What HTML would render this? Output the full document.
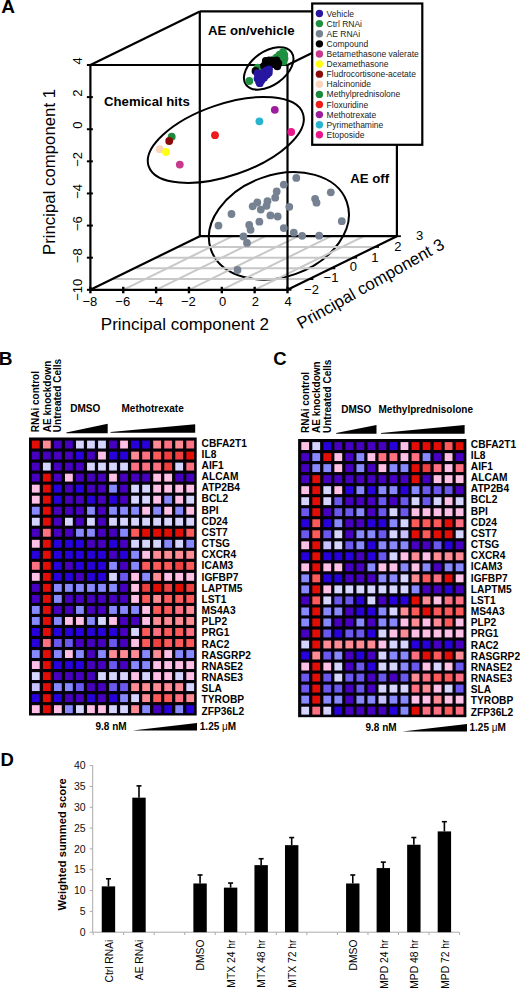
<!DOCTYPE html>
<html><head><meta charset="utf-8"><style>
html,body{margin:0;padding:0;background:#fff;width:520px;height:989px;overflow:hidden;}
svg{display:block;font-family:"Liberation Sans",sans-serif;}
</style></head><body>
<svg width="520" height="989" viewBox="0 0 520 989">
<ellipse cx="278.9" cy="225.85" rx="72" ry="50.95" transform="rotate(-19.5 278.9 225.85)" fill="none" stroke="#000" stroke-width="2" />
<line x1="112.28" y1="279.08" x2="309.38" y2="279.08" stroke="#c8c8c8" stroke-width="2" />
<line x1="134.16" y1="268.36" x2="331.26" y2="268.36" stroke="#c8c8c8" stroke-width="2" />
<line x1="156.04" y1="257.64" x2="353.14" y2="257.64" stroke="#c8c8c8" stroke-width="2" />
<line x1="177.92" y1="246.92" x2="375.02" y2="246.92" stroke="#c8c8c8" stroke-width="2" />
<line x1="123.25" y1="289.8" x2="232.65" y2="236.2" stroke="#c8c8c8" stroke-width="2" />
<line x1="156.1" y1="289.8" x2="265.5" y2="236.2" stroke="#c8c8c8" stroke-width="2" />
<line x1="188.95" y1="289.8" x2="298.35" y2="236.2" stroke="#c8c8c8" stroke-width="2" />
<line x1="221.8" y1="289.8" x2="331.2" y2="236.2" stroke="#c8c8c8" stroke-width="2" />
<line x1="254.65" y1="289.8" x2="364.05" y2="236.2" stroke="#c8c8c8" stroke-width="2" />
<line x1="90.4" y1="65" x2="90.4" y2="289.8" stroke="#000" stroke-width="2.2" />
<line x1="90.4" y1="65" x2="287.5" y2="65" stroke="#000" stroke-width="2.2" />
<line x1="90.4" y1="289.8" x2="287.5" y2="289.8" stroke="#000" stroke-width="2.2" />
<line x1="287.5" y1="65" x2="287.5" y2="289.8" stroke="#000" stroke-width="2.2" />
<line x1="199.8" y1="11.4" x2="199.8" y2="236.2" stroke="#000" stroke-width="2.2" />
<line x1="199.8" y1="11.4" x2="396.9" y2="11.4" stroke="#000" stroke-width="2.2" />
<line x1="199.8" y1="236.2" x2="396.9" y2="236.2" stroke="#000" stroke-width="2.2" />
<line x1="396.9" y1="11.4" x2="396.9" y2="236.2" stroke="#000" stroke-width="2.2" />
<line x1="90.4" y1="65" x2="199.8" y2="11.4" stroke="#000" stroke-width="2.2" />
<line x1="287.5" y1="65" x2="396.9" y2="11.4" stroke="#000" stroke-width="2.2" />
<line x1="90.4" y1="289.8" x2="199.8" y2="236.2" stroke="#000" stroke-width="2.2" />
<line x1="287.5" y1="289.8" x2="396.9" y2="236.2" stroke="#000" stroke-width="2.2" />
<ellipse cx="225.8" cy="139.95" rx="81.5" ry="35.8" transform="rotate(-18.94 225.8 139.95)" fill="none" stroke="#000" stroke-width="2" />
<ellipse cx="268.7" cy="68.4" rx="27.9" ry="16.9" transform="rotate(-35.5 268.7 68.4)" fill="none" stroke="#000" stroke-width="2" />
<line x1="86.9" y1="65" x2="92.9" y2="65" stroke="#000" stroke-width="2" />
<text x="0" y="0" font-size="13" text-anchor="middle" transform="translate(81.8 61) rotate(-90)">4</text>
<line x1="86.9" y1="97.11" x2="92.9" y2="97.11" stroke="#000" stroke-width="2" />
<text x="0" y="0" font-size="13" text-anchor="middle" transform="translate(81.8 93.11) rotate(-90)">2</text>
<line x1="86.9" y1="129.23" x2="92.9" y2="129.23" stroke="#000" stroke-width="2" />
<text x="0" y="0" font-size="13" text-anchor="middle" transform="translate(81.8 125.23) rotate(-90)">0</text>
<line x1="86.9" y1="161.34" x2="92.9" y2="161.34" stroke="#000" stroke-width="2" />
<text x="0" y="0" font-size="13" text-anchor="middle" transform="translate(81.8 159.34) rotate(-90)">&#8722;2</text>
<line x1="86.9" y1="193.46" x2="92.9" y2="193.46" stroke="#000" stroke-width="2" />
<text x="0" y="0" font-size="13" text-anchor="middle" transform="translate(81.8 191.46) rotate(-90)">&#8722;4</text>
<line x1="86.9" y1="225.57" x2="92.9" y2="225.57" stroke="#000" stroke-width="2" />
<text x="0" y="0" font-size="13" text-anchor="middle" transform="translate(81.8 223.57) rotate(-90)">&#8722;6</text>
<line x1="86.9" y1="257.69" x2="92.9" y2="257.69" stroke="#000" stroke-width="2" />
<text x="0" y="0" font-size="13" text-anchor="middle" transform="translate(81.8 255.69) rotate(-90)">&#8722;8</text>
<line x1="86.9" y1="289.8" x2="92.9" y2="289.8" stroke="#000" stroke-width="2" />
<text x="0" y="0" font-size="13" text-anchor="middle" transform="translate(81.8 289.8) rotate(-90)">&#8722;10</text>
<line x1="90.4" y1="286.8" x2="90.4" y2="293.3" stroke="#000" stroke-width="2.4" />
<text x="89.9" y="306.2" font-size="13" text-anchor="middle" fill="#000" >&#8722;8</text>
<line x1="123.25" y1="286.8" x2="123.25" y2="293.3" stroke="#000" stroke-width="2.4" />
<text x="122.75" y="306.2" font-size="13" text-anchor="middle" fill="#000" >&#8722;6</text>
<line x1="156.1" y1="286.8" x2="156.1" y2="293.3" stroke="#000" stroke-width="2.4" />
<text x="155.6" y="306.2" font-size="13" text-anchor="middle" fill="#000" >&#8722;4</text>
<line x1="188.95" y1="286.8" x2="188.95" y2="293.3" stroke="#000" stroke-width="2.4" />
<text x="188.45" y="306.2" font-size="13" text-anchor="middle" fill="#000" >&#8722;2</text>
<line x1="221.8" y1="286.8" x2="221.8" y2="293.3" stroke="#000" stroke-width="2.4" />
<text x="222.5" y="306.2" font-size="13" text-anchor="middle" fill="#000" >0</text>
<line x1="254.65" y1="286.8" x2="254.65" y2="293.3" stroke="#000" stroke-width="2.4" />
<text x="255.35" y="306.2" font-size="13" text-anchor="middle" fill="#000" >2</text>
<line x1="287.5" y1="286.8" x2="287.5" y2="293.3" stroke="#000" stroke-width="2.4" />
<text x="288.2" y="306.2" font-size="13" text-anchor="middle" fill="#000" >4</text>
<text x="311.5" y="294.3" font-size="13" text-anchor="middle" fill="#000" >&#8722;2</text>
<text x="331" y="282" font-size="13" text-anchor="middle" fill="#000" >&#8722;1</text>
<text x="353.3" y="271.4" font-size="13" text-anchor="middle" fill="#000" >0</text>
<text x="374.8" y="261.7" font-size="13" text-anchor="middle" fill="#000" >1</text>
<text x="397.9" y="250.5" font-size="13" text-anchor="middle" fill="#000" >2</text>
<text x="419.7" y="240.2" font-size="13" text-anchor="middle" fill="#000" >3</text>
<line x1="287" y1="289.8" x2="291.5" y2="289.8" stroke="#000" stroke-width="1.8" />
<line x1="308.88" y1="279.08" x2="313.38" y2="279.08" stroke="#000" stroke-width="1.8" />
<line x1="330.76" y1="268.36" x2="335.26" y2="268.36" stroke="#000" stroke-width="1.8" />
<line x1="352.64" y1="257.64" x2="357.14" y2="257.64" stroke="#000" stroke-width="1.8" />
<line x1="374.52" y1="246.92" x2="379.02" y2="246.92" stroke="#000" stroke-width="1.8" />
<line x1="396.4" y1="236.2" x2="400.9" y2="236.2" stroke="#000" stroke-width="1.8" />
<text x="100.8" y="329.8" font-size="17" text-anchor="start" fill="#000" >Principal component 2</text>
<text x="0" y="0" font-size="16.8" transform="translate(55.3 255) rotate(-90)">Principal component 1</text>
<text x="0" y="0" font-size="16.8" transform="translate(301 329.6) rotate(-29.5)">Principal component 3</text>
<text x="208" y="35.4" font-size="13.2" font-weight="bold" text-anchor="start" fill="#000" >AE on/vehicle</text>
<text x="104" y="105.5" font-size="13.2" font-weight="bold" text-anchor="start" fill="#000" >Chemical hits</text>
<text x="350.3" y="183.3" font-size="13.2" font-weight="bold" text-anchor="start" fill="#000" >AE off</text>
<circle cx="296.3" cy="177.9" r="3.9" fill="#768292"/>
<circle cx="283.8" cy="184.6" r="3.9" fill="#768292"/>
<circle cx="276.7" cy="191.5" r="3.9" fill="#768292"/>
<circle cx="275.2" cy="197.7" r="3.9" fill="#768292"/>
<circle cx="267.5" cy="201.2" r="3.9" fill="#768292"/>
<circle cx="266.5" cy="205.8" r="3.9" fill="#768292"/>
<circle cx="257.3" cy="202.5" r="3.9" fill="#768292"/>
<circle cx="252.7" cy="206.3" r="3.9" fill="#768292"/>
<circle cx="260.8" cy="209.6" r="3.9" fill="#768292"/>
<circle cx="289.3" cy="206.8" r="3.9" fill="#768292"/>
<circle cx="270.4" cy="215.4" r="3.9" fill="#768292"/>
<circle cx="277.7" cy="216.5" r="3.9" fill="#768292"/>
<circle cx="231.5" cy="214" r="3.9" fill="#768292"/>
<circle cx="218.5" cy="225.6" r="3.9" fill="#768292"/>
<circle cx="249.2" cy="225" r="3.9" fill="#768292"/>
<circle cx="250.6" cy="229.8" r="3.9" fill="#768292"/>
<circle cx="259.4" cy="221.7" r="3.9" fill="#768292"/>
<circle cx="283.8" cy="228.1" r="3.9" fill="#768292"/>
<circle cx="293.8" cy="232.7" r="3.9" fill="#768292"/>
<circle cx="302.1" cy="235.8" r="3.9" fill="#768292"/>
<circle cx="243.5" cy="236.5" r="3.9" fill="#768292"/>
<circle cx="247" cy="242.9" r="3.9" fill="#768292"/>
<circle cx="330.8" cy="192.3" r="3.9" fill="#768292"/>
<circle cx="315.1" cy="198.8" r="3.9" fill="#768292"/>
<circle cx="316.5" cy="202.7" r="3.9" fill="#768292"/>
<circle cx="341.8" cy="221.2" r="3.9" fill="#768292"/>
<circle cx="319.2" cy="235.7" r="3.9" fill="#768292"/>
<circle cx="237.5" cy="270" r="3.9" fill="#768292"/>
<circle cx="171.7" cy="136.7" r="3.9" fill="#1c8a3c"/>
<circle cx="169.2" cy="141" r="3.9" fill="#8b0a0a"/>
<circle cx="159.8" cy="149.2" r="3.9" fill="#fad5bc"/>
<circle cx="166" cy="152" r="3.9" fill="#ffff10"/>
<circle cx="179.8" cy="164.6" r="3.9" fill="#c8388c"/>
<circle cx="215" cy="135.2" r="3.9" fill="#ee1c1c"/>
<circle cx="259.4" cy="121.3" r="3.9" fill="#28b4d0"/>
<circle cx="274.8" cy="109.8" r="3.9" fill="#9c1c9c"/>
<circle cx="291.2" cy="132" r="3.9" fill="#e8188c"/>
<circle cx="283" cy="52.2" r="3.9" fill="#1f9040"/>
<circle cx="284.3" cy="54.8" r="3.9" fill="#1f9040"/>
<circle cx="284.5" cy="58.5" r="3.9" fill="#1f9040"/>
<circle cx="283.6" cy="61.5" r="3.9" fill="#1f9040"/>
<circle cx="279.6" cy="54.6" r="3.9" fill="#1f9040"/>
<circle cx="276.7" cy="57.5" r="3.9" fill="#1f9040"/>
<circle cx="273.8" cy="59.4" r="3.9" fill="#1f9040"/>
<circle cx="281.5" cy="57.5" r="3.9" fill="#1f9040"/>
<circle cx="257.5" cy="67.6" r="3.9" fill="#1f9040"/>
<circle cx="249.3" cy="81" r="3.9" fill="#1f9040"/>
<circle cx="265.8" cy="61" r="3.9" fill="#000000"/>
<circle cx="269.2" cy="60.3" r="3.9" fill="#000000"/>
<circle cx="272.9" cy="61" r="3.9" fill="#000000"/>
<circle cx="276.5" cy="60.5" r="3.9" fill="#000000"/>
<circle cx="278.3" cy="63.5" r="3.9" fill="#000000"/>
<circle cx="277.3" cy="66.3" r="3.9" fill="#000000"/>
<circle cx="273.8" cy="64.2" r="3.9" fill="#000000"/>
<circle cx="270" cy="63.8" r="3.9" fill="#000000"/>
<circle cx="266.2" cy="64.5" r="3.9" fill="#000000"/>
<circle cx="264" cy="66" r="3.9" fill="#000000"/>
<circle cx="255.5" cy="71" r="3.9" fill="#000000"/>
<circle cx="269" cy="69.5" r="3.9" fill="#2616a0"/>
<circle cx="266.5" cy="70.5" r="3.9" fill="#2616a0"/>
<circle cx="264.2" cy="71.9" r="3.9" fill="#2616a0"/>
<circle cx="261.3" cy="73.8" r="3.9" fill="#2616a0"/>
<circle cx="258.8" cy="75.8" r="3.9" fill="#2616a0"/>
<circle cx="257.5" cy="78.7" r="3.9" fill="#2616a0"/>
<circle cx="259" cy="81.5" r="3.9" fill="#2616a0"/>
<circle cx="261.5" cy="80.3" r="3.9" fill="#2616a0"/>
<circle cx="264" cy="77.7" r="3.9" fill="#2616a0"/>
<circle cx="266.8" cy="74.8" r="3.9" fill="#2616a0"/>
<circle cx="268.8" cy="72.8" r="3.9" fill="#2616a0"/>
<circle cx="257.5" cy="73.2" r="3.9" fill="#2616a0"/>
<circle cx="259.8" cy="83.2" r="3.9" fill="#2616a0"/>
<circle cx="262" cy="76" r="3.9" fill="#2616a0"/>
<rect x="312.2" y="3.5" width="110.1" height="141.3" fill="#fff" stroke="#000" stroke-width="2.2"/>
<circle cx="319.4" cy="13.5" r="3.7" fill="#2616a0"/>
<text x="326.6" y="16.6" font-size="8.5" text-anchor="start" fill="#222" >Vehicle</text>
<circle cx="319.4" cy="23.61" r="3.7" fill="#1f9040"/>
<text x="326.6" y="26.71" font-size="8.5" text-anchor="start" fill="#222" >Ctrl RNAi</text>
<circle cx="319.4" cy="33.72" r="3.7" fill="#768292"/>
<text x="326.6" y="36.82" font-size="8.5" text-anchor="start" fill="#222" >AE RNAi</text>
<circle cx="319.4" cy="43.83" r="3.7" fill="#000000"/>
<text x="326.6" y="46.93" font-size="8.5" text-anchor="start" fill="#222" >Compound</text>
<circle cx="319.4" cy="53.94" r="3.7" fill="#c8388c"/>
<text x="326.6" y="57.04" font-size="8.5" text-anchor="start" fill="#222" >Betamethasone valerate</text>
<circle cx="319.4" cy="64.05" r="3.7" fill="#ffff10"/>
<text x="326.6" y="67.15" font-size="8.5" text-anchor="start" fill="#222" >Dexamethasone</text>
<circle cx="319.4" cy="74.16" r="3.7" fill="#8b0a0a"/>
<text x="326.6" y="77.26" font-size="8.5" text-anchor="start" fill="#222" >Fludrocortisone-acetate</text>
<circle cx="319.4" cy="84.27" r="3.7" fill="#fad5bc"/>
<text x="326.6" y="87.37" font-size="8.5" text-anchor="start" fill="#222" >Halcinonide</text>
<circle cx="319.4" cy="94.38" r="3.7" fill="#1c8a3c"/>
<text x="326.6" y="97.48" font-size="8.5" text-anchor="start" fill="#222" >Methylprednisolone</text>
<circle cx="319.4" cy="104.49" r="3.7" fill="#ee1c1c"/>
<text x="326.6" y="107.59" font-size="8.5" text-anchor="start" fill="#222" >Floxuridine</text>
<circle cx="319.4" cy="114.6" r="3.7" fill="#9c1c9c"/>
<text x="326.6" y="117.7" font-size="8.5" text-anchor="start" fill="#222" >Methotrexate</text>
<circle cx="319.4" cy="124.71" r="3.7" fill="#28b4d0"/>
<text x="326.6" y="127.81" font-size="8.5" text-anchor="start" fill="#222" >Pyrimethamine</text>
<circle cx="319.4" cy="134.82" r="3.7" fill="#e8188c"/>
<text x="326.6" y="137.92" font-size="8.5" text-anchor="start" fill="#222" >Etoposide</text>
<text x="1.2" y="12.9" font-size="19" font-weight="bold" text-anchor="start" fill="#000" >A</text>
<text x="-1.2" y="365.4" font-size="19" font-weight="bold" text-anchor="start" fill="#000" >B</text>
<text x="273.3" y="365" font-size="18.5" font-weight="bold" text-anchor="start" fill="#000" >C</text>
<text x="0.6" y="766" font-size="18.5" font-weight="bold" text-anchor="start" fill="#000" >D</text>
<rect x="29" y="437.5" width="167.7" height="278" fill="#040008"/>
<rect x="31.9" y="440.6" width="7.8" height="7.9" fill="#E20E06"/>
<rect x="42.93" y="440.6" width="7.8" height="7.9" fill="#FF8C94"/>
<rect x="53.96" y="440.6" width="7.8" height="7.9" fill="#4800C0"/>
<rect x="64.99" y="440.6" width="7.8" height="7.9" fill="#4800C0"/>
<rect x="76.02" y="440.6" width="7.8" height="7.9" fill="#D5D5FF"/>
<rect x="87.05" y="440.6" width="7.8" height="7.9" fill="#D5D5FF"/>
<rect x="98.08" y="440.6" width="7.8" height="7.9" fill="#D5D5FF"/>
<rect x="109.11" y="440.6" width="7.8" height="7.9" fill="#4800C0"/>
<rect x="120.14" y="440.6" width="7.8" height="7.9" fill="#FFC0E5"/>
<rect x="131.17" y="440.6" width="7.8" height="7.9" fill="#2800DC"/>
<rect x="142.2" y="440.6" width="7.8" height="7.9" fill="#2800DC"/>
<rect x="153.23" y="440.6" width="7.8" height="7.9" fill="#FF8C94"/>
<rect x="164.26" y="440.6" width="7.8" height="7.9" fill="#FF7080"/>
<rect x="175.29" y="440.6" width="7.8" height="7.9" fill="#FF8C94"/>
<rect x="186.32" y="440.6" width="7.8" height="7.9" fill="#FF7080"/>
<rect x="31.9" y="451.62" width="7.8" height="7.9" fill="#4800C0"/>
<rect x="42.93" y="451.62" width="7.8" height="7.9" fill="#4800C0"/>
<rect x="53.96" y="451.62" width="7.8" height="7.9" fill="#4800C0"/>
<rect x="64.99" y="451.62" width="7.8" height="7.9" fill="#4800C0"/>
<rect x="76.02" y="451.62" width="7.8" height="7.9" fill="#2800DC"/>
<rect x="87.05" y="451.62" width="7.8" height="7.9" fill="#4800C0"/>
<rect x="98.08" y="451.62" width="7.8" height="7.9" fill="#FFC0E5"/>
<rect x="109.11" y="451.62" width="7.8" height="7.9" fill="#2800DC"/>
<rect x="120.14" y="451.62" width="7.8" height="7.9" fill="#2800DC"/>
<rect x="131.17" y="451.62" width="7.8" height="7.9" fill="#FF8C94"/>
<rect x="142.2" y="451.62" width="7.8" height="7.9" fill="#FF7080"/>
<rect x="153.23" y="451.62" width="7.8" height="7.9" fill="#FF5A5A"/>
<rect x="164.26" y="451.62" width="7.8" height="7.9" fill="#EF4040"/>
<rect x="175.29" y="451.62" width="7.8" height="7.9" fill="#EF4040"/>
<rect x="186.32" y="451.62" width="7.8" height="7.9" fill="#E20E06"/>
<rect x="31.9" y="462.65" width="7.8" height="7.9" fill="#4800C0"/>
<rect x="42.93" y="462.65" width="7.8" height="7.9" fill="#D5D5FF"/>
<rect x="53.96" y="462.65" width="7.8" height="7.9" fill="#4800C0"/>
<rect x="64.99" y="462.65" width="7.8" height="7.9" fill="#4800C0"/>
<rect x="76.02" y="462.65" width="7.8" height="7.9" fill="#4800C0"/>
<rect x="87.05" y="462.65" width="7.8" height="7.9" fill="#D5D5FF"/>
<rect x="98.08" y="462.65" width="7.8" height="7.9" fill="#D5D5FF"/>
<rect x="109.11" y="462.65" width="7.8" height="7.9" fill="#D5D5FF"/>
<rect x="120.14" y="462.65" width="7.8" height="7.9" fill="#D5D5FF"/>
<rect x="131.17" y="462.65" width="7.8" height="7.9" fill="#FF7080"/>
<rect x="142.2" y="462.65" width="7.8" height="7.9" fill="#FF7080"/>
<rect x="153.23" y="462.65" width="7.8" height="7.9" fill="#FF7080"/>
<rect x="164.26" y="462.65" width="7.8" height="7.9" fill="#EF4040"/>
<rect x="175.29" y="462.65" width="7.8" height="7.9" fill="#D5D5FF"/>
<rect x="186.32" y="462.65" width="7.8" height="7.9" fill="#FF7080"/>
<rect x="31.9" y="473.68" width="7.8" height="7.9" fill="#4800C0"/>
<rect x="42.93" y="473.68" width="7.8" height="7.9" fill="#E20E06"/>
<rect x="53.96" y="473.68" width="7.8" height="7.9" fill="#4800C0"/>
<rect x="64.99" y="473.68" width="7.8" height="7.9" fill="#FFC0E5"/>
<rect x="76.02" y="473.68" width="7.8" height="7.9" fill="#4800C0"/>
<rect x="87.05" y="473.68" width="7.8" height="7.9" fill="#4800C0"/>
<rect x="98.08" y="473.68" width="7.8" height="7.9" fill="#4800C0"/>
<rect x="109.11" y="473.68" width="7.8" height="7.9" fill="#FFC0E5"/>
<rect x="120.14" y="473.68" width="7.8" height="7.9" fill="#4800C0"/>
<rect x="131.17" y="473.68" width="7.8" height="7.9" fill="#4800C0"/>
<rect x="142.2" y="473.68" width="7.8" height="7.9" fill="#4800C0"/>
<rect x="153.23" y="473.68" width="7.8" height="7.9" fill="#FFC0E5"/>
<rect x="164.26" y="473.68" width="7.8" height="7.9" fill="#FFC0E5"/>
<rect x="175.29" y="473.68" width="7.8" height="7.9" fill="#4800C0"/>
<rect x="186.32" y="473.68" width="7.8" height="7.9" fill="#4800C0"/>
<rect x="31.9" y="484.7" width="7.8" height="7.9" fill="#FFC0E5"/>
<rect x="42.93" y="484.7" width="7.8" height="7.9" fill="#E20E06"/>
<rect x="53.96" y="484.7" width="7.8" height="7.9" fill="#2800DC"/>
<rect x="64.99" y="484.7" width="7.8" height="7.9" fill="#4800C0"/>
<rect x="76.02" y="484.7" width="7.8" height="7.9" fill="#2800DC"/>
<rect x="87.05" y="484.7" width="7.8" height="7.9" fill="#4800C0"/>
<rect x="98.08" y="484.7" width="7.8" height="7.9" fill="#4800C0"/>
<rect x="109.11" y="484.7" width="7.8" height="7.9" fill="#8888FF"/>
<rect x="120.14" y="484.7" width="7.8" height="7.9" fill="#4800C0"/>
<rect x="131.17" y="484.7" width="7.8" height="7.9" fill="#D5D5FF"/>
<rect x="142.2" y="484.7" width="7.8" height="7.9" fill="#D5D5FF"/>
<rect x="153.23" y="484.7" width="7.8" height="7.9" fill="#FFC0E5"/>
<rect x="164.26" y="484.7" width="7.8" height="7.9" fill="#FFC0E5"/>
<rect x="175.29" y="484.7" width="7.8" height="7.9" fill="#FFC0E5"/>
<rect x="186.32" y="484.7" width="7.8" height="7.9" fill="#FFC0E5"/>
<rect x="31.9" y="495.73" width="7.8" height="7.9" fill="#FFC0E5"/>
<rect x="42.93" y="495.73" width="7.8" height="7.9" fill="#E20E06"/>
<rect x="53.96" y="495.73" width="7.8" height="7.9" fill="#2800DC"/>
<rect x="64.99" y="495.73" width="7.8" height="7.9" fill="#4800C0"/>
<rect x="76.02" y="495.73" width="7.8" height="7.9" fill="#4800C0"/>
<rect x="87.05" y="495.73" width="7.8" height="7.9" fill="#2800DC"/>
<rect x="98.08" y="495.73" width="7.8" height="7.9" fill="#4800C0"/>
<rect x="109.11" y="495.73" width="7.8" height="7.9" fill="#2800DC"/>
<rect x="120.14" y="495.73" width="7.8" height="7.9" fill="#4800C0"/>
<rect x="131.17" y="495.73" width="7.8" height="7.9" fill="#D5D5FF"/>
<rect x="142.2" y="495.73" width="7.8" height="7.9" fill="#D5D5FF"/>
<rect x="153.23" y="495.73" width="7.8" height="7.9" fill="#FFC0E5"/>
<rect x="164.26" y="495.73" width="7.8" height="7.9" fill="#8888FF"/>
<rect x="175.29" y="495.73" width="7.8" height="7.9" fill="#FFC0E5"/>
<rect x="186.32" y="495.73" width="7.8" height="7.9" fill="#D5D5FF"/>
<rect x="31.9" y="506.75" width="7.8" height="7.9" fill="#8888FF"/>
<rect x="42.93" y="506.75" width="7.8" height="7.9" fill="#E20E06"/>
<rect x="53.96" y="506.75" width="7.8" height="7.9" fill="#4800C0"/>
<rect x="64.99" y="506.75" width="7.8" height="7.9" fill="#4800C0"/>
<rect x="76.02" y="506.75" width="7.8" height="7.9" fill="#4800C0"/>
<rect x="87.05" y="506.75" width="7.8" height="7.9" fill="#8888FF"/>
<rect x="98.08" y="506.75" width="7.8" height="7.9" fill="#4800C0"/>
<rect x="109.11" y="506.75" width="7.8" height="7.9" fill="#8888FF"/>
<rect x="120.14" y="506.75" width="7.8" height="7.9" fill="#8888FF"/>
<rect x="131.17" y="506.75" width="7.8" height="7.9" fill="#8888FF"/>
<rect x="142.2" y="506.75" width="7.8" height="7.9" fill="#FFC0E5"/>
<rect x="153.23" y="506.75" width="7.8" height="7.9" fill="#8888FF"/>
<rect x="164.26" y="506.75" width="7.8" height="7.9" fill="#FFC0E5"/>
<rect x="175.29" y="506.75" width="7.8" height="7.9" fill="#8888FF"/>
<rect x="186.32" y="506.75" width="7.8" height="7.9" fill="#FFC0E5"/>
<rect x="31.9" y="517.77" width="7.8" height="7.9" fill="#D5D5FF"/>
<rect x="42.93" y="517.77" width="7.8" height="7.9" fill="#E20E06"/>
<rect x="53.96" y="517.77" width="7.8" height="7.9" fill="#4800C0"/>
<rect x="64.99" y="517.77" width="7.8" height="7.9" fill="#D5D5FF"/>
<rect x="76.02" y="517.77" width="7.8" height="7.9" fill="#4800C0"/>
<rect x="87.05" y="517.77" width="7.8" height="7.9" fill="#D5D5FF"/>
<rect x="98.08" y="517.77" width="7.8" height="7.9" fill="#4800C0"/>
<rect x="109.11" y="517.77" width="7.8" height="7.9" fill="#D5D5FF"/>
<rect x="120.14" y="517.77" width="7.8" height="7.9" fill="#D5D5FF"/>
<rect x="131.17" y="517.77" width="7.8" height="7.9" fill="#D5D5FF"/>
<rect x="142.2" y="517.77" width="7.8" height="7.9" fill="#D5D5FF"/>
<rect x="153.23" y="517.77" width="7.8" height="7.9" fill="#D5D5FF"/>
<rect x="164.26" y="517.77" width="7.8" height="7.9" fill="#D5D5FF"/>
<rect x="175.29" y="517.77" width="7.8" height="7.9" fill="#D5D5FF"/>
<rect x="186.32" y="517.77" width="7.8" height="7.9" fill="#D5D5FF"/>
<rect x="31.9" y="528.8" width="7.8" height="7.9" fill="#4800C0"/>
<rect x="42.93" y="528.8" width="7.8" height="7.9" fill="#FF7080"/>
<rect x="53.96" y="528.8" width="7.8" height="7.9" fill="#4800C0"/>
<rect x="64.99" y="528.8" width="7.8" height="7.9" fill="#4800C0"/>
<rect x="76.02" y="528.8" width="7.8" height="7.9" fill="#8888FF"/>
<rect x="87.05" y="528.8" width="7.8" height="7.9" fill="#8888FF"/>
<rect x="98.08" y="528.8" width="7.8" height="7.9" fill="#4800C0"/>
<rect x="109.11" y="528.8" width="7.8" height="7.9" fill="#4800C0"/>
<rect x="120.14" y="528.8" width="7.8" height="7.9" fill="#8888FF"/>
<rect x="131.17" y="528.8" width="7.8" height="7.9" fill="#FF5A5A"/>
<rect x="142.2" y="528.8" width="7.8" height="7.9" fill="#E20E06"/>
<rect x="153.23" y="528.8" width="7.8" height="7.9" fill="#E20E06"/>
<rect x="164.26" y="528.8" width="7.8" height="7.9" fill="#E20E06"/>
<rect x="175.29" y="528.8" width="7.8" height="7.9" fill="#E20E06"/>
<rect x="186.32" y="528.8" width="7.8" height="7.9" fill="#FF5A5A"/>
<rect x="31.9" y="539.83" width="7.8" height="7.9" fill="#FFC0E5"/>
<rect x="42.93" y="539.83" width="7.8" height="7.9" fill="#E20E06"/>
<rect x="53.96" y="539.83" width="7.8" height="7.9" fill="#2800DC"/>
<rect x="64.99" y="539.83" width="7.8" height="7.9" fill="#2800DC"/>
<rect x="76.02" y="539.83" width="7.8" height="7.9" fill="#2800DC"/>
<rect x="87.05" y="539.83" width="7.8" height="7.9" fill="#4800C0"/>
<rect x="98.08" y="539.83" width="7.8" height="7.9" fill="#4800C0"/>
<rect x="109.11" y="539.83" width="7.8" height="7.9" fill="#2800DC"/>
<rect x="120.14" y="539.83" width="7.8" height="7.9" fill="#4800C0"/>
<rect x="131.17" y="539.83" width="7.8" height="7.9" fill="#D5D5FF"/>
<rect x="142.2" y="539.83" width="7.8" height="7.9" fill="#D5D5FF"/>
<rect x="153.23" y="539.83" width="7.8" height="7.9" fill="#D5D5FF"/>
<rect x="164.26" y="539.83" width="7.8" height="7.9" fill="#8888FF"/>
<rect x="175.29" y="539.83" width="7.8" height="7.9" fill="#D5D5FF"/>
<rect x="186.32" y="539.83" width="7.8" height="7.9" fill="#8888FF"/>
<rect x="31.9" y="550.85" width="7.8" height="7.9" fill="#2800DC"/>
<rect x="42.93" y="550.85" width="7.8" height="7.9" fill="#E20E06"/>
<rect x="53.96" y="550.85" width="7.8" height="7.9" fill="#2800DC"/>
<rect x="64.99" y="550.85" width="7.8" height="7.9" fill="#2800DC"/>
<rect x="76.02" y="550.85" width="7.8" height="7.9" fill="#2800DC"/>
<rect x="87.05" y="550.85" width="7.8" height="7.9" fill="#2800DC"/>
<rect x="98.08" y="550.85" width="7.8" height="7.9" fill="#2800DC"/>
<rect x="109.11" y="550.85" width="7.8" height="7.9" fill="#4800C0"/>
<rect x="120.14" y="550.85" width="7.8" height="7.9" fill="#2800DC"/>
<rect x="131.17" y="550.85" width="7.8" height="7.9" fill="#8888FF"/>
<rect x="142.2" y="550.85" width="7.8" height="7.9" fill="#FFC0E5"/>
<rect x="153.23" y="550.85" width="7.8" height="7.9" fill="#FF8C94"/>
<rect x="164.26" y="550.85" width="7.8" height="7.9" fill="#FF8C94"/>
<rect x="175.29" y="550.85" width="7.8" height="7.9" fill="#FF8C94"/>
<rect x="186.32" y="550.85" width="7.8" height="7.9" fill="#FF8C94"/>
<rect x="31.9" y="561.88" width="7.8" height="7.9" fill="#FF7080"/>
<rect x="42.93" y="561.88" width="7.8" height="7.9" fill="#E20E06"/>
<rect x="53.96" y="561.88" width="7.8" height="7.9" fill="#2800DC"/>
<rect x="64.99" y="561.88" width="7.8" height="7.9" fill="#4800C0"/>
<rect x="76.02" y="561.88" width="7.8" height="7.9" fill="#2800DC"/>
<rect x="87.05" y="561.88" width="7.8" height="7.9" fill="#2800DC"/>
<rect x="98.08" y="561.88" width="7.8" height="7.9" fill="#2800DC"/>
<rect x="109.11" y="561.88" width="7.8" height="7.9" fill="#8888FF"/>
<rect x="120.14" y="561.88" width="7.8" height="7.9" fill="#4800C0"/>
<rect x="131.17" y="561.88" width="7.8" height="7.9" fill="#8888FF"/>
<rect x="142.2" y="561.88" width="7.8" height="7.9" fill="#FF5A5A"/>
<rect x="153.23" y="561.88" width="7.8" height="7.9" fill="#FF5A5A"/>
<rect x="164.26" y="561.88" width="7.8" height="7.9" fill="#FF5A5A"/>
<rect x="175.29" y="561.88" width="7.8" height="7.9" fill="#EF4040"/>
<rect x="186.32" y="561.88" width="7.8" height="7.9" fill="#FF5A5A"/>
<rect x="31.9" y="572.9" width="7.8" height="7.9" fill="#FFC0E5"/>
<rect x="42.93" y="572.9" width="7.8" height="7.9" fill="#E20E06"/>
<rect x="53.96" y="572.9" width="7.8" height="7.9" fill="#2800DC"/>
<rect x="64.99" y="572.9" width="7.8" height="7.9" fill="#2800DC"/>
<rect x="76.02" y="572.9" width="7.8" height="7.9" fill="#4800C0"/>
<rect x="87.05" y="572.9" width="7.8" height="7.9" fill="#2800DC"/>
<rect x="98.08" y="572.9" width="7.8" height="7.9" fill="#2800DC"/>
<rect x="109.11" y="572.9" width="7.8" height="7.9" fill="#D5D5FF"/>
<rect x="120.14" y="572.9" width="7.8" height="7.9" fill="#6B58EF"/>
<rect x="131.17" y="572.9" width="7.8" height="7.9" fill="#FFC0E5"/>
<rect x="142.2" y="572.9" width="7.8" height="7.9" fill="#8888FF"/>
<rect x="153.23" y="572.9" width="7.8" height="7.9" fill="#FF8C94"/>
<rect x="164.26" y="572.9" width="7.8" height="7.9" fill="#FFC0E5"/>
<rect x="175.29" y="572.9" width="7.8" height="7.9" fill="#FFC0E5"/>
<rect x="186.32" y="572.9" width="7.8" height="7.9" fill="#FFC0E5"/>
<rect x="31.9" y="583.93" width="7.8" height="7.9" fill="#4800C0"/>
<rect x="42.93" y="583.93" width="7.8" height="7.9" fill="#E20E06"/>
<rect x="53.96" y="583.93" width="7.8" height="7.9" fill="#8888FF"/>
<rect x="64.99" y="583.93" width="7.8" height="7.9" fill="#8888FF"/>
<rect x="76.02" y="583.93" width="7.8" height="7.9" fill="#8888FF"/>
<rect x="87.05" y="583.93" width="7.8" height="7.9" fill="#8888FF"/>
<rect x="98.08" y="583.93" width="7.8" height="7.9" fill="#8888FF"/>
<rect x="109.11" y="583.93" width="7.8" height="7.9" fill="#8888FF"/>
<rect x="120.14" y="583.93" width="7.8" height="7.9" fill="#4800C0"/>
<rect x="131.17" y="583.93" width="7.8" height="7.9" fill="#FFC0E5"/>
<rect x="142.2" y="583.93" width="7.8" height="7.9" fill="#EF4040"/>
<rect x="153.23" y="583.93" width="7.8" height="7.9" fill="#E20E06"/>
<rect x="164.26" y="583.93" width="7.8" height="7.9" fill="#EF4040"/>
<rect x="175.29" y="583.93" width="7.8" height="7.9" fill="#E20E06"/>
<rect x="186.32" y="583.93" width="7.8" height="7.9" fill="#EF4040"/>
<rect x="31.9" y="594.95" width="7.8" height="7.9" fill="#4800C0"/>
<rect x="42.93" y="594.95" width="7.8" height="7.9" fill="#E20E06"/>
<rect x="53.96" y="594.95" width="7.8" height="7.9" fill="#8888FF"/>
<rect x="64.99" y="594.95" width="7.8" height="7.9" fill="#4800C0"/>
<rect x="76.02" y="594.95" width="7.8" height="7.9" fill="#4800C0"/>
<rect x="87.05" y="594.95" width="7.8" height="7.9" fill="#4800C0"/>
<rect x="98.08" y="594.95" width="7.8" height="7.9" fill="#4800C0"/>
<rect x="109.11" y="594.95" width="7.8" height="7.9" fill="#4800C0"/>
<rect x="120.14" y="594.95" width="7.8" height="7.9" fill="#4800C0"/>
<rect x="131.17" y="594.95" width="7.8" height="7.9" fill="#FFC0E5"/>
<rect x="142.2" y="594.95" width="7.8" height="7.9" fill="#FF5A5A"/>
<rect x="153.23" y="594.95" width="7.8" height="7.9" fill="#FF8C94"/>
<rect x="164.26" y="594.95" width="7.8" height="7.9" fill="#FF5A5A"/>
<rect x="175.29" y="594.95" width="7.8" height="7.9" fill="#FF5A5A"/>
<rect x="186.32" y="594.95" width="7.8" height="7.9" fill="#FF5A5A"/>
<rect x="31.9" y="605.98" width="7.8" height="7.9" fill="#8888FF"/>
<rect x="42.93" y="605.98" width="7.8" height="7.9" fill="#E20E06"/>
<rect x="53.96" y="605.98" width="7.8" height="7.9" fill="#4800C0"/>
<rect x="64.99" y="605.98" width="7.8" height="7.9" fill="#4800C0"/>
<rect x="76.02" y="605.98" width="7.8" height="7.9" fill="#8888FF"/>
<rect x="87.05" y="605.98" width="7.8" height="7.9" fill="#4800C0"/>
<rect x="98.08" y="605.98" width="7.8" height="7.9" fill="#4800C0"/>
<rect x="109.11" y="605.98" width="7.8" height="7.9" fill="#8888FF"/>
<rect x="120.14" y="605.98" width="7.8" height="7.9" fill="#8888FF"/>
<rect x="131.17" y="605.98" width="7.8" height="7.9" fill="#8888FF"/>
<rect x="142.2" y="605.98" width="7.8" height="7.9" fill="#FFC0E5"/>
<rect x="153.23" y="605.98" width="7.8" height="7.9" fill="#FF5A5A"/>
<rect x="164.26" y="605.98" width="7.8" height="7.9" fill="#FF5A5A"/>
<rect x="175.29" y="605.98" width="7.8" height="7.9" fill="#FF7080"/>
<rect x="186.32" y="605.98" width="7.8" height="7.9" fill="#FF8C94"/>
<rect x="31.9" y="617" width="7.8" height="7.9" fill="#8888FF"/>
<rect x="42.93" y="617" width="7.8" height="7.9" fill="#E20E06"/>
<rect x="53.96" y="617" width="7.8" height="7.9" fill="#8888FF"/>
<rect x="64.99" y="617" width="7.8" height="7.9" fill="#FFC0E5"/>
<rect x="76.02" y="617" width="7.8" height="7.9" fill="#FFC0E5"/>
<rect x="87.05" y="617" width="7.8" height="7.9" fill="#8888FF"/>
<rect x="98.08" y="617" width="7.8" height="7.9" fill="#D5D5FF"/>
<rect x="109.11" y="617" width="7.8" height="7.9" fill="#FFC0E5"/>
<rect x="120.14" y="617" width="7.8" height="7.9" fill="#4800C0"/>
<rect x="131.17" y="617" width="7.8" height="7.9" fill="#4800C0"/>
<rect x="142.2" y="617" width="7.8" height="7.9" fill="#FFC0E5"/>
<rect x="153.23" y="617" width="7.8" height="7.9" fill="#FF8C94"/>
<rect x="164.26" y="617" width="7.8" height="7.9" fill="#FF8C94"/>
<rect x="175.29" y="617" width="7.8" height="7.9" fill="#FF8C94"/>
<rect x="186.32" y="617" width="7.8" height="7.9" fill="#FF8C94"/>
<rect x="31.9" y="628.03" width="7.8" height="7.9" fill="#2800DC"/>
<rect x="42.93" y="628.03" width="7.8" height="7.9" fill="#E20E06"/>
<rect x="53.96" y="628.03" width="7.8" height="7.9" fill="#2800DC"/>
<rect x="64.99" y="628.03" width="7.8" height="7.9" fill="#2800DC"/>
<rect x="76.02" y="628.03" width="7.8" height="7.9" fill="#2800DC"/>
<rect x="87.05" y="628.03" width="7.8" height="7.9" fill="#2800DC"/>
<rect x="98.08" y="628.03" width="7.8" height="7.9" fill="#2800DC"/>
<rect x="109.11" y="628.03" width="7.8" height="7.9" fill="#2800DC"/>
<rect x="120.14" y="628.03" width="7.8" height="7.9" fill="#4800C0"/>
<rect x="131.17" y="628.03" width="7.8" height="7.9" fill="#D5D5FF"/>
<rect x="142.2" y="628.03" width="7.8" height="7.9" fill="#FF5A5A"/>
<rect x="153.23" y="628.03" width="7.8" height="7.9" fill="#FF7080"/>
<rect x="164.26" y="628.03" width="7.8" height="7.9" fill="#FF5A5A"/>
<rect x="175.29" y="628.03" width="7.8" height="7.9" fill="#FF5A5A"/>
<rect x="186.32" y="628.03" width="7.8" height="7.9" fill="#FF7080"/>
<rect x="31.9" y="639.05" width="7.8" height="7.9" fill="#2800DC"/>
<rect x="42.93" y="639.05" width="7.8" height="7.9" fill="#FF7080"/>
<rect x="53.96" y="639.05" width="7.8" height="7.9" fill="#6B58EF"/>
<rect x="64.99" y="639.05" width="7.8" height="7.9" fill="#6B58EF"/>
<rect x="76.02" y="639.05" width="7.8" height="7.9" fill="#4800C0"/>
<rect x="87.05" y="639.05" width="7.8" height="7.9" fill="#4800C0"/>
<rect x="98.08" y="639.05" width="7.8" height="7.9" fill="#4800C0"/>
<rect x="109.11" y="639.05" width="7.8" height="7.9" fill="#6B58EF"/>
<rect x="120.14" y="639.05" width="7.8" height="7.9" fill="#4800C0"/>
<rect x="131.17" y="639.05" width="7.8" height="7.9" fill="#FFC0E5"/>
<rect x="142.2" y="639.05" width="7.8" height="7.9" fill="#FF5A5A"/>
<rect x="153.23" y="639.05" width="7.8" height="7.9" fill="#EF4040"/>
<rect x="164.26" y="639.05" width="7.8" height="7.9" fill="#FF5A5A"/>
<rect x="175.29" y="639.05" width="7.8" height="7.9" fill="#FF5A5A"/>
<rect x="186.32" y="639.05" width="7.8" height="7.9" fill="#FF5A5A"/>
<rect x="31.9" y="650.08" width="7.8" height="7.9" fill="#8888FF"/>
<rect x="42.93" y="650.08" width="7.8" height="7.9" fill="#E20E06"/>
<rect x="53.96" y="650.08" width="7.8" height="7.9" fill="#8888FF"/>
<rect x="64.99" y="650.08" width="7.8" height="7.9" fill="#FFC0E5"/>
<rect x="76.02" y="650.08" width="7.8" height="7.9" fill="#8888FF"/>
<rect x="87.05" y="650.08" width="7.8" height="7.9" fill="#4800C0"/>
<rect x="98.08" y="650.08" width="7.8" height="7.9" fill="#8888FF"/>
<rect x="109.11" y="650.08" width="7.8" height="7.9" fill="#FF8C94"/>
<rect x="120.14" y="650.08" width="7.8" height="7.9" fill="#FF8C94"/>
<rect x="131.17" y="650.08" width="7.8" height="7.9" fill="#FF8C94"/>
<rect x="142.2" y="650.08" width="7.8" height="7.9" fill="#8888FF"/>
<rect x="153.23" y="650.08" width="7.8" height="7.9" fill="#FF8C94"/>
<rect x="164.26" y="650.08" width="7.8" height="7.9" fill="#FFC0E5"/>
<rect x="175.29" y="650.08" width="7.8" height="7.9" fill="#8888FF"/>
<rect x="186.32" y="650.08" width="7.8" height="7.9" fill="#8888FF"/>
<rect x="31.9" y="661.1" width="7.8" height="7.9" fill="#FFC0E5"/>
<rect x="42.93" y="661.1" width="7.8" height="7.9" fill="#E20E06"/>
<rect x="53.96" y="661.1" width="7.8" height="7.9" fill="#2800DC"/>
<rect x="64.99" y="661.1" width="7.8" height="7.9" fill="#2800DC"/>
<rect x="76.02" y="661.1" width="7.8" height="7.9" fill="#2800DC"/>
<rect x="87.05" y="661.1" width="7.8" height="7.9" fill="#4800C0"/>
<rect x="98.08" y="661.1" width="7.8" height="7.9" fill="#4800C0"/>
<rect x="109.11" y="661.1" width="7.8" height="7.9" fill="#6B58EF"/>
<rect x="120.14" y="661.1" width="7.8" height="7.9" fill="#4800C0"/>
<rect x="131.17" y="661.1" width="7.8" height="7.9" fill="#8888FF"/>
<rect x="142.2" y="661.1" width="7.8" height="7.9" fill="#8888FF"/>
<rect x="153.23" y="661.1" width="7.8" height="7.9" fill="#FFC0E5"/>
<rect x="164.26" y="661.1" width="7.8" height="7.9" fill="#FFC0E5"/>
<rect x="175.29" y="661.1" width="7.8" height="7.9" fill="#FFC0E5"/>
<rect x="186.32" y="661.1" width="7.8" height="7.9" fill="#FFC0E5"/>
<rect x="31.9" y="672.12" width="7.8" height="7.9" fill="#D5D5FF"/>
<rect x="42.93" y="672.12" width="7.8" height="7.9" fill="#E20E06"/>
<rect x="53.96" y="672.12" width="7.8" height="7.9" fill="#4800C0"/>
<rect x="64.99" y="672.12" width="7.8" height="7.9" fill="#4800C0"/>
<rect x="76.02" y="672.12" width="7.8" height="7.9" fill="#4800C0"/>
<rect x="87.05" y="672.12" width="7.8" height="7.9" fill="#4800C0"/>
<rect x="98.08" y="672.12" width="7.8" height="7.9" fill="#D5D5FF"/>
<rect x="109.11" y="672.12" width="7.8" height="7.9" fill="#D5D5FF"/>
<rect x="120.14" y="672.12" width="7.8" height="7.9" fill="#D5D5FF"/>
<rect x="131.17" y="672.12" width="7.8" height="7.9" fill="#FFC0E5"/>
<rect x="142.2" y="672.12" width="7.8" height="7.9" fill="#D5D5FF"/>
<rect x="153.23" y="672.12" width="7.8" height="7.9" fill="#FFC0E5"/>
<rect x="164.26" y="672.12" width="7.8" height="7.9" fill="#FFC0E5"/>
<rect x="175.29" y="672.12" width="7.8" height="7.9" fill="#D5D5FF"/>
<rect x="186.32" y="672.12" width="7.8" height="7.9" fill="#FFC0E5"/>
<rect x="31.9" y="683.15" width="7.8" height="7.9" fill="#C7C1FF"/>
<rect x="42.93" y="683.15" width="7.8" height="7.9" fill="#E20E06"/>
<rect x="53.96" y="683.15" width="7.8" height="7.9" fill="#8888FF"/>
<rect x="64.99" y="683.15" width="7.8" height="7.9" fill="#8888FF"/>
<rect x="76.02" y="683.15" width="7.8" height="7.9" fill="#6B58EF"/>
<rect x="87.05" y="683.15" width="7.8" height="7.9" fill="#4800C0"/>
<rect x="98.08" y="683.15" width="7.8" height="7.9" fill="#4800C0"/>
<rect x="109.11" y="683.15" width="7.8" height="7.9" fill="#6B58EF"/>
<rect x="120.14" y="683.15" width="7.8" height="7.9" fill="#6B58EF"/>
<rect x="131.17" y="683.15" width="7.8" height="7.9" fill="#FF8C94"/>
<rect x="142.2" y="683.15" width="7.8" height="7.9" fill="#FF8C94"/>
<rect x="153.23" y="683.15" width="7.8" height="7.9" fill="#FF8C94"/>
<rect x="164.26" y="683.15" width="7.8" height="7.9" fill="#FF8C94"/>
<rect x="175.29" y="683.15" width="7.8" height="7.9" fill="#FF8C94"/>
<rect x="186.32" y="683.15" width="7.8" height="7.9" fill="#D5D5FF"/>
<rect x="31.9" y="694.18" width="7.8" height="7.9" fill="#2800DC"/>
<rect x="42.93" y="694.18" width="7.8" height="7.9" fill="#E20E06"/>
<rect x="53.96" y="694.18" width="7.8" height="7.9" fill="#2800DC"/>
<rect x="64.99" y="694.18" width="7.8" height="7.9" fill="#4800C0"/>
<rect x="76.02" y="694.18" width="7.8" height="7.9" fill="#4800C0"/>
<rect x="87.05" y="694.18" width="7.8" height="7.9" fill="#2800DC"/>
<rect x="98.08" y="694.18" width="7.8" height="7.9" fill="#4800C0"/>
<rect x="109.11" y="694.18" width="7.8" height="7.9" fill="#2800DC"/>
<rect x="120.14" y="694.18" width="7.8" height="7.9" fill="#8888FF"/>
<rect x="131.17" y="694.18" width="7.8" height="7.9" fill="#D5D5FF"/>
<rect x="142.2" y="694.18" width="7.8" height="7.9" fill="#FF8C94"/>
<rect x="153.23" y="694.18" width="7.8" height="7.9" fill="#FF5A5A"/>
<rect x="164.26" y="694.18" width="7.8" height="7.9" fill="#FF5A5A"/>
<rect x="175.29" y="694.18" width="7.8" height="7.9" fill="#FF7080"/>
<rect x="186.32" y="694.18" width="7.8" height="7.9" fill="#FF8C94"/>
<rect x="31.9" y="705.2" width="7.8" height="7.9" fill="#FFC0E5"/>
<rect x="42.93" y="705.2" width="7.8" height="7.9" fill="#E20E06"/>
<rect x="53.96" y="705.2" width="7.8" height="7.9" fill="#FFC0E5"/>
<rect x="64.99" y="705.2" width="7.8" height="7.9" fill="#8888FF"/>
<rect x="76.02" y="705.2" width="7.8" height="7.9" fill="#D5D5FF"/>
<rect x="87.05" y="705.2" width="7.8" height="7.9" fill="#FFC0E5"/>
<rect x="98.08" y="705.2" width="7.8" height="7.9" fill="#FFC0E5"/>
<rect x="109.11" y="705.2" width="7.8" height="7.9" fill="#D5D5FF"/>
<rect x="120.14" y="705.2" width="7.8" height="7.9" fill="#D5D5FF"/>
<rect x="131.17" y="705.2" width="7.8" height="7.9" fill="#FF8C94"/>
<rect x="142.2" y="705.2" width="7.8" height="7.9" fill="#8888FF"/>
<rect x="153.23" y="705.2" width="7.8" height="7.9" fill="#4800C0"/>
<rect x="164.26" y="705.2" width="7.8" height="7.9" fill="#2800DC"/>
<rect x="175.29" y="705.2" width="7.8" height="7.9" fill="#8888FF"/>
<rect x="186.32" y="705.2" width="7.8" height="7.9" fill="#2800DC"/>
<text x="201.6" y="446.5" font-size="10.2" font-weight="bold" text-anchor="start" fill="#000" >CBFA2T1</text>
<text x="201.6" y="457.67" font-size="10.2" font-weight="bold" text-anchor="start" fill="#000" >IL8</text>
<text x="201.6" y="468.84" font-size="10.2" font-weight="bold" text-anchor="start" fill="#000" >AIF1</text>
<text x="201.6" y="480.01" font-size="10.2" font-weight="bold" text-anchor="start" fill="#000" >ALCAM</text>
<text x="201.6" y="491.18" font-size="10.2" font-weight="bold" text-anchor="start" fill="#000" >ATP2B4</text>
<text x="201.6" y="502.35" font-size="10.2" font-weight="bold" text-anchor="start" fill="#000" >BCL2</text>
<text x="201.6" y="513.52" font-size="10.2" font-weight="bold" text-anchor="start" fill="#000" >BPI</text>
<text x="201.6" y="524.69" font-size="10.2" font-weight="bold" text-anchor="start" fill="#000" >CD24</text>
<text x="201.6" y="535.86" font-size="10.2" font-weight="bold" text-anchor="start" fill="#000" >CST7</text>
<text x="201.6" y="547.03" font-size="10.2" font-weight="bold" text-anchor="start" fill="#000" >CTSG</text>
<text x="201.6" y="558.2" font-size="10.2" font-weight="bold" text-anchor="start" fill="#000" >CXCR4</text>
<text x="201.6" y="569.37" font-size="10.2" font-weight="bold" text-anchor="start" fill="#000" >ICAM3</text>
<text x="201.6" y="580.54" font-size="10.2" font-weight="bold" text-anchor="start" fill="#000" >IGFBP7</text>
<text x="201.6" y="591.71" font-size="10.2" font-weight="bold" text-anchor="start" fill="#000" >LAPTM5</text>
<text x="201.6" y="602.88" font-size="10.2" font-weight="bold" text-anchor="start" fill="#000" >LST1</text>
<text x="201.6" y="614.05" font-size="10.2" font-weight="bold" text-anchor="start" fill="#000" >MS4A3</text>
<text x="201.6" y="625.22" font-size="10.2" font-weight="bold" text-anchor="start" fill="#000" >PLP2</text>
<text x="201.6" y="636.39" font-size="10.2" font-weight="bold" text-anchor="start" fill="#000" >PRG1</text>
<text x="201.6" y="647.56" font-size="10.2" font-weight="bold" text-anchor="start" fill="#000" >RAC2</text>
<text x="201.6" y="658.73" font-size="10.2" font-weight="bold" text-anchor="start" fill="#000" >RASGRP2</text>
<text x="201.6" y="669.9" font-size="10.2" font-weight="bold" text-anchor="start" fill="#000" >RNASE2</text>
<text x="201.6" y="681.07" font-size="10.2" font-weight="bold" text-anchor="start" fill="#000" >RNASE3</text>
<text x="201.6" y="692.24" font-size="10.2" font-weight="bold" text-anchor="start" fill="#000" >SLA</text>
<text x="201.6" y="703.41" font-size="10.2" font-weight="bold" text-anchor="start" fill="#000" >TYROBP</text>
<text x="201.6" y="714.58" font-size="10.2" font-weight="bold" text-anchor="start" fill="#000" >ZFP36L2</text>
<text x="0" y="0" font-size="10" font-weight="bold" transform="translate(38.9 432.2) rotate(-90)">RNAi control</text>
<text x="0" y="0" font-size="10" font-weight="bold" transform="translate(50.5 432.2) rotate(-90)">AE knockdown</text>
<text x="0" y="0" font-size="10" font-weight="bold" transform="translate(61.3 432.2) rotate(-90)">Untreated Cells</text>
<text x="70.3" y="411.5" font-size="10" font-weight="bold" text-anchor="start" fill="#000" >DMSO</text>
<text x="121.5" y="411.5" font-size="10" font-weight="bold" text-anchor="start" fill="#000" >Methotrexate</text>
<polygon points="66.3,433.3 66.3,432.5 107.7,423.8 107.7,433.3" fill="#000"/>
<polygon points="110.6,432.8 110.6,432 195.2,424.2 195.2,432.8" fill="#000"/>
<text x="95.5" y="730.4" font-size="10" font-weight="bold" text-anchor="start" fill="#000" >9.8 nM</text>
<polygon points="132.5,730.4 197,722.9 197,730.4" fill="#000"/>
<text x="199.8" y="730.4" font-size="10" font-weight="bold">1.25 <tspan font-weight="normal">&#956;</tspan>M</text>
<rect x="298.1" y="439" width="168.3" height="278.2" fill="#040008"/>
<rect x="301.3" y="442.1" width="7.8" height="7.9" fill="#FFC0E5"/>
<rect x="312.33" y="442.1" width="7.8" height="7.9" fill="#D5D5FF"/>
<rect x="323.36" y="442.1" width="7.8" height="7.9" fill="#2800DC"/>
<rect x="334.39" y="442.1" width="7.8" height="7.9" fill="#4800C0"/>
<rect x="345.42" y="442.1" width="7.8" height="7.9" fill="#4800C0"/>
<rect x="356.45" y="442.1" width="7.8" height="7.9" fill="#4800C0"/>
<rect x="367.48" y="442.1" width="7.8" height="7.9" fill="#4800C0"/>
<rect x="378.51" y="442.1" width="7.8" height="7.9" fill="#4800C0"/>
<rect x="389.54" y="442.1" width="7.8" height="7.9" fill="#2800DC"/>
<rect x="400.57" y="442.1" width="7.8" height="7.9" fill="#FFC0E5"/>
<rect x="411.6" y="442.1" width="7.8" height="7.9" fill="#E20E06"/>
<rect x="422.63" y="442.1" width="7.8" height="7.9" fill="#E20E06"/>
<rect x="433.66" y="442.1" width="7.8" height="7.9" fill="#E20E06"/>
<rect x="444.69" y="442.1" width="7.8" height="7.9" fill="#FF5A5A"/>
<rect x="455.72" y="442.1" width="7.8" height="7.9" fill="#E20E06"/>
<rect x="301.3" y="453.12" width="7.8" height="7.9" fill="#4800C0"/>
<rect x="312.33" y="453.12" width="7.8" height="7.9" fill="#8888FF"/>
<rect x="323.36" y="453.12" width="7.8" height="7.9" fill="#E20E06"/>
<rect x="334.39" y="453.12" width="7.8" height="7.9" fill="#FFC0E5"/>
<rect x="345.42" y="453.12" width="7.8" height="7.9" fill="#4800C0"/>
<rect x="356.45" y="453.12" width="7.8" height="7.9" fill="#8888FF"/>
<rect x="367.48" y="453.12" width="7.8" height="7.9" fill="#FFC0E5"/>
<rect x="378.51" y="453.12" width="7.8" height="7.9" fill="#FF7080"/>
<rect x="389.54" y="453.12" width="7.8" height="7.9" fill="#FF7080"/>
<rect x="400.57" y="453.12" width="7.8" height="7.9" fill="#FFC0E5"/>
<rect x="411.6" y="453.12" width="7.8" height="7.9" fill="#FF7080"/>
<rect x="422.63" y="453.12" width="7.8" height="7.9" fill="#8888FF"/>
<rect x="433.66" y="453.12" width="7.8" height="7.9" fill="#4800C0"/>
<rect x="444.69" y="453.12" width="7.8" height="7.9" fill="#FFC0E5"/>
<rect x="455.72" y="453.12" width="7.8" height="7.9" fill="#4800C0"/>
<rect x="301.3" y="464.15" width="7.8" height="7.9" fill="#4800C0"/>
<rect x="312.33" y="464.15" width="7.8" height="7.9" fill="#8888FF"/>
<rect x="323.36" y="464.15" width="7.8" height="7.9" fill="#8888FF"/>
<rect x="334.39" y="464.15" width="7.8" height="7.9" fill="#FFC0E5"/>
<rect x="345.42" y="464.15" width="7.8" height="7.9" fill="#4800C0"/>
<rect x="356.45" y="464.15" width="7.8" height="7.9" fill="#8888FF"/>
<rect x="367.48" y="464.15" width="7.8" height="7.9" fill="#4800C0"/>
<rect x="378.51" y="464.15" width="7.8" height="7.9" fill="#FFC0E5"/>
<rect x="389.54" y="464.15" width="7.8" height="7.9" fill="#8888FF"/>
<rect x="400.57" y="464.15" width="7.8" height="7.9" fill="#8888FF"/>
<rect x="411.6" y="464.15" width="7.8" height="7.9" fill="#E20E06"/>
<rect x="422.63" y="464.15" width="7.8" height="7.9" fill="#EF4040"/>
<rect x="433.66" y="464.15" width="7.8" height="7.9" fill="#FF7080"/>
<rect x="444.69" y="464.15" width="7.8" height="7.9" fill="#FFC0E5"/>
<rect x="455.72" y="464.15" width="7.8" height="7.9" fill="#FF7080"/>
<rect x="301.3" y="475.18" width="7.8" height="7.9" fill="#4800C0"/>
<rect x="312.33" y="475.18" width="7.8" height="7.9" fill="#E20E06"/>
<rect x="323.36" y="475.18" width="7.8" height="7.9" fill="#4800C0"/>
<rect x="334.39" y="475.18" width="7.8" height="7.9" fill="#4800C0"/>
<rect x="345.42" y="475.18" width="7.8" height="7.9" fill="#4800C0"/>
<rect x="356.45" y="475.18" width="7.8" height="7.9" fill="#4800C0"/>
<rect x="367.48" y="475.18" width="7.8" height="7.9" fill="#4800C0"/>
<rect x="378.51" y="475.18" width="7.8" height="7.9" fill="#4800C0"/>
<rect x="389.54" y="475.18" width="7.8" height="7.9" fill="#4800C0"/>
<rect x="400.57" y="475.18" width="7.8" height="7.9" fill="#4800C0"/>
<rect x="411.6" y="475.18" width="7.8" height="7.9" fill="#E20E06"/>
<rect x="422.63" y="475.18" width="7.8" height="7.9" fill="#4800C0"/>
<rect x="433.66" y="475.18" width="7.8" height="7.9" fill="#FFC0E5"/>
<rect x="444.69" y="475.18" width="7.8" height="7.9" fill="#FFC0E5"/>
<rect x="455.72" y="475.18" width="7.8" height="7.9" fill="#FFC0E5"/>
<rect x="301.3" y="486.2" width="7.8" height="7.9" fill="#FFC0E5"/>
<rect x="312.33" y="486.2" width="7.8" height="7.9" fill="#E20E06"/>
<rect x="323.36" y="486.2" width="7.8" height="7.9" fill="#D5D5FF"/>
<rect x="334.39" y="486.2" width="7.8" height="7.9" fill="#FFC0E5"/>
<rect x="345.42" y="486.2" width="7.8" height="7.9" fill="#2800DC"/>
<rect x="356.45" y="486.2" width="7.8" height="7.9" fill="#8888FF"/>
<rect x="367.48" y="486.2" width="7.8" height="7.9" fill="#2800DC"/>
<rect x="378.51" y="486.2" width="7.8" height="7.9" fill="#8888FF"/>
<rect x="389.54" y="486.2" width="7.8" height="7.9" fill="#8888FF"/>
<rect x="400.57" y="486.2" width="7.8" height="7.9" fill="#2800DC"/>
<rect x="411.6" y="486.2" width="7.8" height="7.9" fill="#8888FF"/>
<rect x="422.63" y="486.2" width="7.8" height="7.9" fill="#6B58EF"/>
<rect x="433.66" y="486.2" width="7.8" height="7.9" fill="#6B58EF"/>
<rect x="444.69" y="486.2" width="7.8" height="7.9" fill="#6B58EF"/>
<rect x="455.72" y="486.2" width="7.8" height="7.9" fill="#4800C0"/>
<rect x="301.3" y="497.23" width="7.8" height="7.9" fill="#D5D5FF"/>
<rect x="312.33" y="497.23" width="7.8" height="7.9" fill="#E20E06"/>
<rect x="323.36" y="497.23" width="7.8" height="7.9" fill="#D5D5FF"/>
<rect x="334.39" y="497.23" width="7.8" height="7.9" fill="#6B58EF"/>
<rect x="345.42" y="497.23" width="7.8" height="7.9" fill="#4800C0"/>
<rect x="356.45" y="497.23" width="7.8" height="7.9" fill="#4800C0"/>
<rect x="367.48" y="497.23" width="7.8" height="7.9" fill="#4800C0"/>
<rect x="378.51" y="497.23" width="7.8" height="7.9" fill="#6B58EF"/>
<rect x="389.54" y="497.23" width="7.8" height="7.9" fill="#4800C0"/>
<rect x="400.57" y="497.23" width="7.8" height="7.9" fill="#6B58EF"/>
<rect x="411.6" y="497.23" width="7.8" height="7.9" fill="#D5D5FF"/>
<rect x="422.63" y="497.23" width="7.8" height="7.9" fill="#6B58EF"/>
<rect x="433.66" y="497.23" width="7.8" height="7.9" fill="#D5D5FF"/>
<rect x="444.69" y="497.23" width="7.8" height="7.9" fill="#FFC0E5"/>
<rect x="455.72" y="497.23" width="7.8" height="7.9" fill="#D5D5FF"/>
<rect x="301.3" y="508.25" width="7.8" height="7.9" fill="#6B58EF"/>
<rect x="312.33" y="508.25" width="7.8" height="7.9" fill="#E20E06"/>
<rect x="323.36" y="508.25" width="7.8" height="7.9" fill="#4800C0"/>
<rect x="334.39" y="508.25" width="7.8" height="7.9" fill="#6B58EF"/>
<rect x="345.42" y="508.25" width="7.8" height="7.9" fill="#6B58EF"/>
<rect x="356.45" y="508.25" width="7.8" height="7.9" fill="#8888FF"/>
<rect x="367.48" y="508.25" width="7.8" height="7.9" fill="#4800C0"/>
<rect x="378.51" y="508.25" width="7.8" height="7.9" fill="#6B58EF"/>
<rect x="389.54" y="508.25" width="7.8" height="7.9" fill="#D5D5FF"/>
<rect x="400.57" y="508.25" width="7.8" height="7.9" fill="#6B58EF"/>
<rect x="411.6" y="508.25" width="7.8" height="7.9" fill="#FFC0E5"/>
<rect x="422.63" y="508.25" width="7.8" height="7.9" fill="#FFC0E5"/>
<rect x="433.66" y="508.25" width="7.8" height="7.9" fill="#FFC0E5"/>
<rect x="444.69" y="508.25" width="7.8" height="7.9" fill="#FFC0E5"/>
<rect x="455.72" y="508.25" width="7.8" height="7.9" fill="#FFC0E5"/>
<rect x="301.3" y="519.27" width="7.8" height="7.9" fill="#2800DC"/>
<rect x="312.33" y="519.27" width="7.8" height="7.9" fill="#FF5A5A"/>
<rect x="323.36" y="519.27" width="7.8" height="7.9" fill="#2800DC"/>
<rect x="334.39" y="519.27" width="7.8" height="7.9" fill="#8888FF"/>
<rect x="345.42" y="519.27" width="7.8" height="7.9" fill="#4800C0"/>
<rect x="356.45" y="519.27" width="7.8" height="7.9" fill="#4800C0"/>
<rect x="367.48" y="519.27" width="7.8" height="7.9" fill="#2800DC"/>
<rect x="378.51" y="519.27" width="7.8" height="7.9" fill="#2800DC"/>
<rect x="389.54" y="519.27" width="7.8" height="7.9" fill="#8888FF"/>
<rect x="400.57" y="519.27" width="7.8" height="7.9" fill="#D5D5FF"/>
<rect x="411.6" y="519.27" width="7.8" height="7.9" fill="#FF5A5A"/>
<rect x="422.63" y="519.27" width="7.8" height="7.9" fill="#FF5A5A"/>
<rect x="433.66" y="519.27" width="7.8" height="7.9" fill="#FF5A5A"/>
<rect x="444.69" y="519.27" width="7.8" height="7.9" fill="#E20E06"/>
<rect x="455.72" y="519.27" width="7.8" height="7.9" fill="#FF7080"/>
<rect x="301.3" y="530.3" width="7.8" height="7.9" fill="#6B58EF"/>
<rect x="312.33" y="530.3" width="7.8" height="7.9" fill="#FF5A5A"/>
<rect x="323.36" y="530.3" width="7.8" height="7.9" fill="#6B58EF"/>
<rect x="334.39" y="530.3" width="7.8" height="7.9" fill="#D5D5FF"/>
<rect x="345.42" y="530.3" width="7.8" height="7.9" fill="#4800C0"/>
<rect x="356.45" y="530.3" width="7.8" height="7.9" fill="#8888FF"/>
<rect x="367.48" y="530.3" width="7.8" height="7.9" fill="#8888FF"/>
<rect x="378.51" y="530.3" width="7.8" height="7.9" fill="#6B58EF"/>
<rect x="389.54" y="530.3" width="7.8" height="7.9" fill="#D5D5FF"/>
<rect x="400.57" y="530.3" width="7.8" height="7.9" fill="#C7C1FF"/>
<rect x="411.6" y="530.3" width="7.8" height="7.9" fill="#E20E06"/>
<rect x="422.63" y="530.3" width="7.8" height="7.9" fill="#FF5A5A"/>
<rect x="433.66" y="530.3" width="7.8" height="7.9" fill="#E20E06"/>
<rect x="444.69" y="530.3" width="7.8" height="7.9" fill="#E20E06"/>
<rect x="455.72" y="530.3" width="7.8" height="7.9" fill="#D5D5FF"/>
<rect x="301.3" y="541.33" width="7.8" height="7.9" fill="#FFC0E5"/>
<rect x="312.33" y="541.33" width="7.8" height="7.9" fill="#E20E06"/>
<rect x="323.36" y="541.33" width="7.8" height="7.9" fill="#C7C1FF"/>
<rect x="334.39" y="541.33" width="7.8" height="7.9" fill="#D5D5FF"/>
<rect x="345.42" y="541.33" width="7.8" height="7.9" fill="#6B58EF"/>
<rect x="356.45" y="541.33" width="7.8" height="7.9" fill="#8888FF"/>
<rect x="367.48" y="541.33" width="7.8" height="7.9" fill="#2800DC"/>
<rect x="378.51" y="541.33" width="7.8" height="7.9" fill="#8888FF"/>
<rect x="389.54" y="541.33" width="7.8" height="7.9" fill="#8888FF"/>
<rect x="400.57" y="541.33" width="7.8" height="7.9" fill="#8888FF"/>
<rect x="411.6" y="541.33" width="7.8" height="7.9" fill="#4800C0"/>
<rect x="422.63" y="541.33" width="7.8" height="7.9" fill="#4800C0"/>
<rect x="433.66" y="541.33" width="7.8" height="7.9" fill="#6B58EF"/>
<rect x="444.69" y="541.33" width="7.8" height="7.9" fill="#2800DC"/>
<rect x="455.72" y="541.33" width="7.8" height="7.9" fill="#4800C0"/>
<rect x="301.3" y="552.35" width="7.8" height="7.9" fill="#2800DC"/>
<rect x="312.33" y="552.35" width="7.8" height="7.9" fill="#E20E06"/>
<rect x="323.36" y="552.35" width="7.8" height="7.9" fill="#2800DC"/>
<rect x="334.39" y="552.35" width="7.8" height="7.9" fill="#2800DC"/>
<rect x="345.42" y="552.35" width="7.8" height="7.9" fill="#2800DC"/>
<rect x="356.45" y="552.35" width="7.8" height="7.9" fill="#4800C0"/>
<rect x="367.48" y="552.35" width="7.8" height="7.9" fill="#2800DC"/>
<rect x="378.51" y="552.35" width="7.8" height="7.9" fill="#6B58EF"/>
<rect x="389.54" y="552.35" width="7.8" height="7.9" fill="#D5D5FF"/>
<rect x="400.57" y="552.35" width="7.8" height="7.9" fill="#FFC0E5"/>
<rect x="411.6" y="552.35" width="7.8" height="7.9" fill="#FF8C94"/>
<rect x="422.63" y="552.35" width="7.8" height="7.9" fill="#FFC0E5"/>
<rect x="433.66" y="552.35" width="7.8" height="7.9" fill="#FF8C94"/>
<rect x="444.69" y="552.35" width="7.8" height="7.9" fill="#FF8C94"/>
<rect x="455.72" y="552.35" width="7.8" height="7.9" fill="#FF8C94"/>
<rect x="301.3" y="563.38" width="7.8" height="7.9" fill="#FFC0E5"/>
<rect x="312.33" y="563.38" width="7.8" height="7.9" fill="#E20E06"/>
<rect x="323.36" y="563.38" width="7.8" height="7.9" fill="#FFC0E5"/>
<rect x="334.39" y="563.38" width="7.8" height="7.9" fill="#FFC0E5"/>
<rect x="345.42" y="563.38" width="7.8" height="7.9" fill="#4800C0"/>
<rect x="356.45" y="563.38" width="7.8" height="7.9" fill="#4800C0"/>
<rect x="367.48" y="563.38" width="7.8" height="7.9" fill="#8888FF"/>
<rect x="378.51" y="563.38" width="7.8" height="7.9" fill="#FFC0E5"/>
<rect x="389.54" y="563.38" width="7.8" height="7.9" fill="#FFC0E5"/>
<rect x="400.57" y="563.38" width="7.8" height="7.9" fill="#8888FF"/>
<rect x="411.6" y="563.38" width="7.8" height="7.9" fill="#FFC0E5"/>
<rect x="422.63" y="563.38" width="7.8" height="7.9" fill="#8888FF"/>
<rect x="433.66" y="563.38" width="7.8" height="7.9" fill="#4800C0"/>
<rect x="444.69" y="563.38" width="7.8" height="7.9" fill="#8888FF"/>
<rect x="455.72" y="563.38" width="7.8" height="7.9" fill="#8888FF"/>
<rect x="301.3" y="574.4" width="7.8" height="7.9" fill="#8888FF"/>
<rect x="312.33" y="574.4" width="7.8" height="7.9" fill="#FF5A5A"/>
<rect x="323.36" y="574.4" width="7.8" height="7.9" fill="#2800DC"/>
<rect x="334.39" y="574.4" width="7.8" height="7.9" fill="#2800DC"/>
<rect x="345.42" y="574.4" width="7.8" height="7.9" fill="#4800C0"/>
<rect x="356.45" y="574.4" width="7.8" height="7.9" fill="#4800C0"/>
<rect x="367.48" y="574.4" width="7.8" height="7.9" fill="#4800C0"/>
<rect x="378.51" y="574.4" width="7.8" height="7.9" fill="#8888FF"/>
<rect x="389.54" y="574.4" width="7.8" height="7.9" fill="#8888FF"/>
<rect x="400.57" y="574.4" width="7.8" height="7.9" fill="#D5D5FF"/>
<rect x="411.6" y="574.4" width="7.8" height="7.9" fill="#FF8C94"/>
<rect x="422.63" y="574.4" width="7.8" height="7.9" fill="#FF5A5A"/>
<rect x="433.66" y="574.4" width="7.8" height="7.9" fill="#FF7080"/>
<rect x="444.69" y="574.4" width="7.8" height="7.9" fill="#E20E06"/>
<rect x="455.72" y="574.4" width="7.8" height="7.9" fill="#FFC0E5"/>
<rect x="301.3" y="585.43" width="7.8" height="7.9" fill="#8888FF"/>
<rect x="312.33" y="585.43" width="7.8" height="7.9" fill="#E20E06"/>
<rect x="323.36" y="585.43" width="7.8" height="7.9" fill="#FFC0E5"/>
<rect x="334.39" y="585.43" width="7.8" height="7.9" fill="#D5D5FF"/>
<rect x="345.42" y="585.43" width="7.8" height="7.9" fill="#D5D5FF"/>
<rect x="356.45" y="585.43" width="7.8" height="7.9" fill="#D5D5FF"/>
<rect x="367.48" y="585.43" width="7.8" height="7.9" fill="#D5D5FF"/>
<rect x="378.51" y="585.43" width="7.8" height="7.9" fill="#D5D5FF"/>
<rect x="389.54" y="585.43" width="7.8" height="7.9" fill="#D5D5FF"/>
<rect x="400.57" y="585.43" width="7.8" height="7.9" fill="#D5D5FF"/>
<rect x="411.6" y="585.43" width="7.8" height="7.9" fill="#8888FF"/>
<rect x="422.63" y="585.43" width="7.8" height="7.9" fill="#4800C0"/>
<rect x="433.66" y="585.43" width="7.8" height="7.9" fill="#4800C0"/>
<rect x="444.69" y="585.43" width="7.8" height="7.9" fill="#2800DC"/>
<rect x="455.72" y="585.43" width="7.8" height="7.9" fill="#4800C0"/>
<rect x="301.3" y="596.45" width="7.8" height="7.9" fill="#4800C0"/>
<rect x="312.33" y="596.45" width="7.8" height="7.9" fill="#FF5A5A"/>
<rect x="323.36" y="596.45" width="7.8" height="7.9" fill="#D5D5FF"/>
<rect x="334.39" y="596.45" width="7.8" height="7.9" fill="#6B58EF"/>
<rect x="345.42" y="596.45" width="7.8" height="7.9" fill="#6B58EF"/>
<rect x="356.45" y="596.45" width="7.8" height="7.9" fill="#2800DC"/>
<rect x="367.48" y="596.45" width="7.8" height="7.9" fill="#D5D5FF"/>
<rect x="378.51" y="596.45" width="7.8" height="7.9" fill="#4800C0"/>
<rect x="389.54" y="596.45" width="7.8" height="7.9" fill="#2800DC"/>
<rect x="400.57" y="596.45" width="7.8" height="7.9" fill="#2800DC"/>
<rect x="411.6" y="596.45" width="7.8" height="7.9" fill="#E20E06"/>
<rect x="422.63" y="596.45" width="7.8" height="7.9" fill="#FF8C94"/>
<rect x="433.66" y="596.45" width="7.8" height="7.9" fill="#FFC0E5"/>
<rect x="444.69" y="596.45" width="7.8" height="7.9" fill="#FF7080"/>
<rect x="455.72" y="596.45" width="7.8" height="7.9" fill="#FF7080"/>
<rect x="301.3" y="607.48" width="7.8" height="7.9" fill="#8888FF"/>
<rect x="312.33" y="607.48" width="7.8" height="7.9" fill="#E20E06"/>
<rect x="323.36" y="607.48" width="7.8" height="7.9" fill="#8888FF"/>
<rect x="334.39" y="607.48" width="7.8" height="7.9" fill="#8888FF"/>
<rect x="345.42" y="607.48" width="7.8" height="7.9" fill="#4800C0"/>
<rect x="356.45" y="607.48" width="7.8" height="7.9" fill="#2800DC"/>
<rect x="367.48" y="607.48" width="7.8" height="7.9" fill="#2800DC"/>
<rect x="378.51" y="607.48" width="7.8" height="7.9" fill="#8888FF"/>
<rect x="389.54" y="607.48" width="7.8" height="7.9" fill="#D5D5FF"/>
<rect x="400.57" y="607.48" width="7.8" height="7.9" fill="#FF8C94"/>
<rect x="411.6" y="607.48" width="7.8" height="7.9" fill="#FF5A5A"/>
<rect x="422.63" y="607.48" width="7.8" height="7.9" fill="#E20E06"/>
<rect x="433.66" y="607.48" width="7.8" height="7.9" fill="#FF5A5A"/>
<rect x="444.69" y="607.48" width="7.8" height="7.9" fill="#FF5A5A"/>
<rect x="455.72" y="607.48" width="7.8" height="7.9" fill="#FF5A5A"/>
<rect x="301.3" y="618.5" width="7.8" height="7.9" fill="#8888FF"/>
<rect x="312.33" y="618.5" width="7.8" height="7.9" fill="#E20E06"/>
<rect x="323.36" y="618.5" width="7.8" height="7.9" fill="#8888FF"/>
<rect x="334.39" y="618.5" width="7.8" height="7.9" fill="#4800C0"/>
<rect x="345.42" y="618.5" width="7.8" height="7.9" fill="#4800C0"/>
<rect x="356.45" y="618.5" width="7.8" height="7.9" fill="#8888FF"/>
<rect x="367.48" y="618.5" width="7.8" height="7.9" fill="#4800C0"/>
<rect x="378.51" y="618.5" width="7.8" height="7.9" fill="#8888FF"/>
<rect x="389.54" y="618.5" width="7.8" height="7.9" fill="#8888FF"/>
<rect x="400.57" y="618.5" width="7.8" height="7.9" fill="#FFC0E5"/>
<rect x="411.6" y="618.5" width="7.8" height="7.9" fill="#FF8C94"/>
<rect x="422.63" y="618.5" width="7.8" height="7.9" fill="#FFC0E5"/>
<rect x="433.66" y="618.5" width="7.8" height="7.9" fill="#FF8C94"/>
<rect x="444.69" y="618.5" width="7.8" height="7.9" fill="#FF5A5A"/>
<rect x="455.72" y="618.5" width="7.8" height="7.9" fill="#FFC0E5"/>
<rect x="301.3" y="629.53" width="7.8" height="7.9" fill="#4800C0"/>
<rect x="312.33" y="629.53" width="7.8" height="7.9" fill="#E20E06"/>
<rect x="323.36" y="629.53" width="7.8" height="7.9" fill="#6B58EF"/>
<rect x="334.39" y="629.53" width="7.8" height="7.9" fill="#2800DC"/>
<rect x="345.42" y="629.53" width="7.8" height="7.9" fill="#6B58EF"/>
<rect x="356.45" y="629.53" width="7.8" height="7.9" fill="#6B58EF"/>
<rect x="367.48" y="629.53" width="7.8" height="7.9" fill="#2800DC"/>
<rect x="378.51" y="629.53" width="7.8" height="7.9" fill="#D5D5FF"/>
<rect x="389.54" y="629.53" width="7.8" height="7.9" fill="#FFC0E5"/>
<rect x="400.57" y="629.53" width="7.8" height="7.9" fill="#FF8C94"/>
<rect x="411.6" y="629.53" width="7.8" height="7.9" fill="#FFC0E5"/>
<rect x="422.63" y="629.53" width="7.8" height="7.9" fill="#FFC0E5"/>
<rect x="433.66" y="629.53" width="7.8" height="7.9" fill="#FFC0E5"/>
<rect x="444.69" y="629.53" width="7.8" height="7.9" fill="#FFC0E5"/>
<rect x="455.72" y="629.53" width="7.8" height="7.9" fill="#FFC0E5"/>
<rect x="301.3" y="640.55" width="7.8" height="7.9" fill="#D5D5FF"/>
<rect x="312.33" y="640.55" width="7.8" height="7.9" fill="#E20E06"/>
<rect x="323.36" y="640.55" width="7.8" height="7.9" fill="#FF8C94"/>
<rect x="334.39" y="640.55" width="7.8" height="7.9" fill="#FF8C94"/>
<rect x="345.42" y="640.55" width="7.8" height="7.9" fill="#FF8C94"/>
<rect x="356.45" y="640.55" width="7.8" height="7.9" fill="#FF8C94"/>
<rect x="367.48" y="640.55" width="7.8" height="7.9" fill="#FF8C94"/>
<rect x="378.51" y="640.55" width="7.8" height="7.9" fill="#FFC0E5"/>
<rect x="389.54" y="640.55" width="7.8" height="7.9" fill="#D5D5FF"/>
<rect x="400.57" y="640.55" width="7.8" height="7.9" fill="#D5D5FF"/>
<rect x="411.6" y="640.55" width="7.8" height="7.9" fill="#2800DC"/>
<rect x="422.63" y="640.55" width="7.8" height="7.9" fill="#2800DC"/>
<rect x="433.66" y="640.55" width="7.8" height="7.9" fill="#4800C0"/>
<rect x="444.69" y="640.55" width="7.8" height="7.9" fill="#2800DC"/>
<rect x="455.72" y="640.55" width="7.8" height="7.9" fill="#4800C0"/>
<rect x="301.3" y="651.58" width="7.8" height="7.9" fill="#2800DC"/>
<rect x="312.33" y="651.58" width="7.8" height="7.9" fill="#FF8C94"/>
<rect x="323.36" y="651.58" width="7.8" height="7.9" fill="#6B58EF"/>
<rect x="334.39" y="651.58" width="7.8" height="7.9" fill="#8888FF"/>
<rect x="345.42" y="651.58" width="7.8" height="7.9" fill="#4800C0"/>
<rect x="356.45" y="651.58" width="7.8" height="7.9" fill="#2800DC"/>
<rect x="367.48" y="651.58" width="7.8" height="7.9" fill="#4800C0"/>
<rect x="378.51" y="651.58" width="7.8" height="7.9" fill="#D5D5FF"/>
<rect x="389.54" y="651.58" width="7.8" height="7.9" fill="#8888FF"/>
<rect x="400.57" y="651.58" width="7.8" height="7.9" fill="#8888FF"/>
<rect x="411.6" y="651.58" width="7.8" height="7.9" fill="#FF7080"/>
<rect x="422.63" y="651.58" width="7.8" height="7.9" fill="#E20E06"/>
<rect x="433.66" y="651.58" width="7.8" height="7.9" fill="#FF5A5A"/>
<rect x="444.69" y="651.58" width="7.8" height="7.9" fill="#E20E06"/>
<rect x="455.72" y="651.58" width="7.8" height="7.9" fill="#FF8C94"/>
<rect x="301.3" y="662.6" width="7.8" height="7.9" fill="#FFC0E5"/>
<rect x="312.33" y="662.6" width="7.8" height="7.9" fill="#E20E06"/>
<rect x="323.36" y="662.6" width="7.8" height="7.9" fill="#FFC0E5"/>
<rect x="334.39" y="662.6" width="7.8" height="7.9" fill="#D5D5FF"/>
<rect x="345.42" y="662.6" width="7.8" height="7.9" fill="#4800C0"/>
<rect x="356.45" y="662.6" width="7.8" height="7.9" fill="#6B58EF"/>
<rect x="367.48" y="662.6" width="7.8" height="7.9" fill="#2800DC"/>
<rect x="378.51" y="662.6" width="7.8" height="7.9" fill="#D5D5FF"/>
<rect x="389.54" y="662.6" width="7.8" height="7.9" fill="#D5D5FF"/>
<rect x="400.57" y="662.6" width="7.8" height="7.9" fill="#8888FF"/>
<rect x="411.6" y="662.6" width="7.8" height="7.9" fill="#6B58EF"/>
<rect x="422.63" y="662.6" width="7.8" height="7.9" fill="#FFC0E5"/>
<rect x="433.66" y="662.6" width="7.8" height="7.9" fill="#D5D5FF"/>
<rect x="444.69" y="662.6" width="7.8" height="7.9" fill="#FFC0E5"/>
<rect x="455.72" y="662.6" width="7.8" height="7.9" fill="#6B58EF"/>
<rect x="301.3" y="673.62" width="7.8" height="7.9" fill="#6B58EF"/>
<rect x="312.33" y="673.62" width="7.8" height="7.9" fill="#E20E06"/>
<rect x="323.36" y="673.62" width="7.8" height="7.9" fill="#6B58EF"/>
<rect x="334.39" y="673.62" width="7.8" height="7.9" fill="#D5D5FF"/>
<rect x="345.42" y="673.62" width="7.8" height="7.9" fill="#6B58EF"/>
<rect x="356.45" y="673.62" width="7.8" height="7.9" fill="#6B58EF"/>
<rect x="367.48" y="673.62" width="7.8" height="7.9" fill="#4800C0"/>
<rect x="378.51" y="673.62" width="7.8" height="7.9" fill="#6B58EF"/>
<rect x="389.54" y="673.62" width="7.8" height="7.9" fill="#4800C0"/>
<rect x="400.57" y="673.62" width="7.8" height="7.9" fill="#6B58EF"/>
<rect x="411.6" y="673.62" width="7.8" height="7.9" fill="#FF8C94"/>
<rect x="422.63" y="673.62" width="7.8" height="7.9" fill="#FF7080"/>
<rect x="433.66" y="673.62" width="7.8" height="7.9" fill="#FF5A5A"/>
<rect x="444.69" y="673.62" width="7.8" height="7.9" fill="#FF5A5A"/>
<rect x="455.72" y="673.62" width="7.8" height="7.9" fill="#FF7080"/>
<rect x="301.3" y="684.65" width="7.8" height="7.9" fill="#6B58EF"/>
<rect x="312.33" y="684.65" width="7.8" height="7.9" fill="#E20E06"/>
<rect x="323.36" y="684.65" width="7.8" height="7.9" fill="#6B58EF"/>
<rect x="334.39" y="684.65" width="7.8" height="7.9" fill="#6B58EF"/>
<rect x="345.42" y="684.65" width="7.8" height="7.9" fill="#4800C0"/>
<rect x="356.45" y="684.65" width="7.8" height="7.9" fill="#6B58EF"/>
<rect x="367.48" y="684.65" width="7.8" height="7.9" fill="#4800C0"/>
<rect x="378.51" y="684.65" width="7.8" height="7.9" fill="#D5D5FF"/>
<rect x="389.54" y="684.65" width="7.8" height="7.9" fill="#D5D5FF"/>
<rect x="400.57" y="684.65" width="7.8" height="7.9" fill="#D5D5FF"/>
<rect x="411.6" y="684.65" width="7.8" height="7.9" fill="#FF7080"/>
<rect x="422.63" y="684.65" width="7.8" height="7.9" fill="#FF8C94"/>
<rect x="433.66" y="684.65" width="7.8" height="7.9" fill="#FFC0E5"/>
<rect x="444.69" y="684.65" width="7.8" height="7.9" fill="#D5D5FF"/>
<rect x="455.72" y="684.65" width="7.8" height="7.9" fill="#6B58EF"/>
<rect x="301.3" y="695.68" width="7.8" height="7.9" fill="#8888FF"/>
<rect x="312.33" y="695.68" width="7.8" height="7.9" fill="#E20E06"/>
<rect x="323.36" y="695.68" width="7.8" height="7.9" fill="#8888FF"/>
<rect x="334.39" y="695.68" width="7.8" height="7.9" fill="#8888FF"/>
<rect x="345.42" y="695.68" width="7.8" height="7.9" fill="#4800C0"/>
<rect x="356.45" y="695.68" width="7.8" height="7.9" fill="#8888FF"/>
<rect x="367.48" y="695.68" width="7.8" height="7.9" fill="#8888FF"/>
<rect x="378.51" y="695.68" width="7.8" height="7.9" fill="#C7C1FF"/>
<rect x="389.54" y="695.68" width="7.8" height="7.9" fill="#8888FF"/>
<rect x="400.57" y="695.68" width="7.8" height="7.9" fill="#8888FF"/>
<rect x="411.6" y="695.68" width="7.8" height="7.9" fill="#FFC0E5"/>
<rect x="422.63" y="695.68" width="7.8" height="7.9" fill="#FFC0E5"/>
<rect x="433.66" y="695.68" width="7.8" height="7.9" fill="#FF8C94"/>
<rect x="444.69" y="695.68" width="7.8" height="7.9" fill="#FFC0E5"/>
<rect x="455.72" y="695.68" width="7.8" height="7.9" fill="#FFC0E5"/>
<rect x="301.3" y="706.7" width="7.8" height="7.9" fill="#D5D5FF"/>
<rect x="312.33" y="706.7" width="7.8" height="7.9" fill="#FF7080"/>
<rect x="323.36" y="706.7" width="7.8" height="7.9" fill="#D5D5FF"/>
<rect x="334.39" y="706.7" width="7.8" height="7.9" fill="#2800DC"/>
<rect x="345.42" y="706.7" width="7.8" height="7.9" fill="#4800C0"/>
<rect x="356.45" y="706.7" width="7.8" height="7.9" fill="#4800C0"/>
<rect x="367.48" y="706.7" width="7.8" height="7.9" fill="#4800C0"/>
<rect x="378.51" y="706.7" width="7.8" height="7.9" fill="#4800C0"/>
<rect x="389.54" y="706.7" width="7.8" height="7.9" fill="#2800DC"/>
<rect x="400.57" y="706.7" width="7.8" height="7.9" fill="#8888FF"/>
<rect x="411.6" y="706.7" width="7.8" height="7.9" fill="#E20E06"/>
<rect x="422.63" y="706.7" width="7.8" height="7.9" fill="#FF7080"/>
<rect x="433.66" y="706.7" width="7.8" height="7.9" fill="#FF7080"/>
<rect x="444.69" y="706.7" width="7.8" height="7.9" fill="#FF5A5A"/>
<rect x="455.72" y="706.7" width="7.8" height="7.9" fill="#FF7080"/>
<text x="470.8" y="447.5" font-size="10.2" font-weight="bold" text-anchor="start" fill="#000" >CBFA2T1</text>
<text x="470.8" y="458.67" font-size="10.2" font-weight="bold" text-anchor="start" fill="#000" >IL8</text>
<text x="470.8" y="469.84" font-size="10.2" font-weight="bold" text-anchor="start" fill="#000" >AIF1</text>
<text x="470.8" y="481.01" font-size="10.2" font-weight="bold" text-anchor="start" fill="#000" >ALCAM</text>
<text x="470.8" y="492.18" font-size="10.2" font-weight="bold" text-anchor="start" fill="#000" >ATP2B4</text>
<text x="470.8" y="503.35" font-size="10.2" font-weight="bold" text-anchor="start" fill="#000" >BCL2</text>
<text x="470.8" y="514.52" font-size="10.2" font-weight="bold" text-anchor="start" fill="#000" >BPI</text>
<text x="470.8" y="525.69" font-size="10.2" font-weight="bold" text-anchor="start" fill="#000" >CD24</text>
<text x="470.8" y="536.86" font-size="10.2" font-weight="bold" text-anchor="start" fill="#000" >CST7</text>
<text x="470.8" y="548.03" font-size="10.2" font-weight="bold" text-anchor="start" fill="#000" >CTSG</text>
<text x="470.8" y="559.2" font-size="10.2" font-weight="bold" text-anchor="start" fill="#000" >CXCR4</text>
<text x="470.8" y="570.37" font-size="10.2" font-weight="bold" text-anchor="start" fill="#000" >ICAM3</text>
<text x="470.8" y="581.54" font-size="10.2" font-weight="bold" text-anchor="start" fill="#000" >IGFBP7</text>
<text x="470.8" y="592.71" font-size="10.2" font-weight="bold" text-anchor="start" fill="#000" >LAPTM5</text>
<text x="470.8" y="603.88" font-size="10.2" font-weight="bold" text-anchor="start" fill="#000" >LST1</text>
<text x="470.8" y="615.05" font-size="10.2" font-weight="bold" text-anchor="start" fill="#000" >MS4A3</text>
<text x="470.8" y="626.22" font-size="10.2" font-weight="bold" text-anchor="start" fill="#000" >PLP2</text>
<text x="470.8" y="637.39" font-size="10.2" font-weight="bold" text-anchor="start" fill="#000" >PRG1</text>
<text x="470.8" y="648.56" font-size="10.2" font-weight="bold" text-anchor="start" fill="#000" >RAC2</text>
<text x="470.8" y="659.73" font-size="10.2" font-weight="bold" text-anchor="start" fill="#000" >RASGRP2</text>
<text x="470.8" y="670.9" font-size="10.2" font-weight="bold" text-anchor="start" fill="#000" >RNASE2</text>
<text x="470.8" y="682.07" font-size="10.2" font-weight="bold" text-anchor="start" fill="#000" >RNASE3</text>
<text x="470.8" y="693.24" font-size="10.2" font-weight="bold" text-anchor="start" fill="#000" >SLA</text>
<text x="470.8" y="704.41" font-size="10.2" font-weight="bold" text-anchor="start" fill="#000" >TYROBP</text>
<text x="470.8" y="715.58" font-size="10.2" font-weight="bold" text-anchor="start" fill="#000" >ZFP36L2</text>
<text x="0" y="0" font-size="10" font-weight="bold" transform="translate(308.6 433) rotate(-90)">RNAi control</text>
<text x="0" y="0" font-size="10" font-weight="bold" transform="translate(320.3 433) rotate(-90)">AE knockdown</text>
<text x="0" y="0" font-size="10" font-weight="bold" transform="translate(331.1 433) rotate(-90)">Untreated Cells</text>
<text x="341.3" y="412.8" font-size="10" font-weight="bold" text-anchor="start" fill="#000" >DMSO</text>
<text x="378.5" y="412.8" font-size="10" font-weight="bold" text-anchor="start" fill="#000" >Methylprednisolone</text>
<polygon points="336.2,433.8 336.2,433 376.5,425 376.5,433.8" fill="#000"/>
<polygon points="381,433.8 381,433 464.6,425 464.6,433.8" fill="#000"/>
<text x="365.5" y="731.4" font-size="10" font-weight="bold" text-anchor="start" fill="#000" >9.8 nM</text>
<polygon points="402.3,731.4 467,723.9 467,731.4" fill="#000"/>
<text x="469.5" y="731.4" font-size="10" font-weight="bold">1.25 <tspan font-weight="normal">&#956;</tspan>M</text>
<line x1="92.7" y1="765.1" x2="92.7" y2="932.2" stroke="#aaa" stroke-width="1" />
<line x1="92.7" y1="932.2" x2="459.2" y2="932.2" stroke="#aaa" stroke-width="1" />
<line x1="89.7" y1="932.2" x2="92.7" y2="932.2" stroke="#aaa" stroke-width="1" />
<text x="85.7" y="935.9" font-size="10.5" text-anchor="end" fill="#111" >0</text>
<line x1="89.7" y1="911.38" x2="92.7" y2="911.38" stroke="#aaa" stroke-width="1" />
<text x="85.7" y="915.08" font-size="10.5" text-anchor="end" fill="#111" >5</text>
<line x1="89.7" y1="890.55" x2="92.7" y2="890.55" stroke="#aaa" stroke-width="1" />
<text x="85.7" y="894.25" font-size="10.5" text-anchor="end" fill="#111" >10</text>
<line x1="89.7" y1="869.73" x2="92.7" y2="869.73" stroke="#aaa" stroke-width="1" />
<text x="85.7" y="873.43" font-size="10.5" text-anchor="end" fill="#111" >15</text>
<line x1="89.7" y1="848.9" x2="92.7" y2="848.9" stroke="#aaa" stroke-width="1" />
<text x="85.7" y="852.6" font-size="10.5" text-anchor="end" fill="#111" >20</text>
<line x1="89.7" y1="828.08" x2="92.7" y2="828.08" stroke="#aaa" stroke-width="1" />
<text x="85.7" y="831.78" font-size="10.5" text-anchor="end" fill="#111" >25</text>
<line x1="89.7" y1="807.25" x2="92.7" y2="807.25" stroke="#aaa" stroke-width="1" />
<text x="85.7" y="810.95" font-size="10.5" text-anchor="end" fill="#111" >30</text>
<line x1="89.7" y1="786.43" x2="92.7" y2="786.43" stroke="#aaa" stroke-width="1" />
<text x="85.7" y="790.13" font-size="10.5" text-anchor="end" fill="#111" >35</text>
<line x1="89.7" y1="765.6" x2="92.7" y2="765.6" stroke="#aaa" stroke-width="1" />
<text x="85.7" y="769.3" font-size="10.5" text-anchor="end" fill="#111" >40</text>
<text x="0" y="0" font-size="11.2" font-weight="bold" transform="translate(65.9 910.5) rotate(-90)">Weighted summed score</text>
<line x1="93.1" y1="932.2" x2="93.1" y2="935" stroke="#aaa" stroke-width="1" />
<line x1="123.64" y1="932.2" x2="123.64" y2="935" stroke="#aaa" stroke-width="1" />
<line x1="154.18" y1="932.2" x2="154.18" y2="935" stroke="#aaa" stroke-width="1" />
<line x1="184.72" y1="932.2" x2="184.72" y2="935" stroke="#aaa" stroke-width="1" />
<line x1="215.26" y1="932.2" x2="215.26" y2="935" stroke="#aaa" stroke-width="1" />
<line x1="245.8" y1="932.2" x2="245.8" y2="935" stroke="#aaa" stroke-width="1" />
<line x1="276.34" y1="932.2" x2="276.34" y2="935" stroke="#aaa" stroke-width="1" />
<line x1="306.88" y1="932.2" x2="306.88" y2="935" stroke="#aaa" stroke-width="1" />
<line x1="337.42" y1="932.2" x2="337.42" y2="935" stroke="#aaa" stroke-width="1" />
<line x1="367.96" y1="932.2" x2="367.96" y2="935" stroke="#aaa" stroke-width="1" />
<line x1="398.5" y1="932.2" x2="398.5" y2="935" stroke="#aaa" stroke-width="1" />
<line x1="429.04" y1="932.2" x2="429.04" y2="935" stroke="#aaa" stroke-width="1" />
<line x1="459.58" y1="932.2" x2="459.58" y2="935" stroke="#aaa" stroke-width="1" />
<rect x="101.75" y="886.38" width="13.4" height="45.82" fill="#000"/>
<line x1="108.45" y1="878.8" x2="108.45" y2="886.38" stroke="#000" stroke-width="1.6" />
<line x1="105.95" y1="878.8" x2="110.95" y2="878.8" stroke="#000" stroke-width="1.6" />
<text x="0" y="0" font-size="10.3" text-anchor="end" transform="translate(112.65 939.6) rotate(-90)">Ctrl RNAi</text>
<rect x="132.29" y="797.67" width="13.4" height="134.53" fill="#000"/>
<line x1="138.99" y1="785.88" x2="138.99" y2="797.67" stroke="#000" stroke-width="1.6" />
<line x1="136.49" y1="785.88" x2="141.49" y2="785.88" stroke="#000" stroke-width="1.6" />
<text x="0" y="0" font-size="10.3" text-anchor="end" transform="translate(143.19 939.6) rotate(-90)">AE RNAi</text>
<rect x="193.37" y="883.47" width="13.4" height="48.73" fill="#000"/>
<line x1="200.07" y1="874.97" x2="200.07" y2="883.47" stroke="#000" stroke-width="1.6" />
<line x1="197.57" y1="874.97" x2="202.57" y2="874.97" stroke="#000" stroke-width="1.6" />
<text x="0" y="0" font-size="10.3" text-anchor="end" transform="translate(204.27 939.6) rotate(-90)">DMSO</text>
<rect x="223.91" y="887.63" width="13.4" height="44.57" fill="#000"/>
<line x1="230.61" y1="883.05" x2="230.61" y2="887.63" stroke="#000" stroke-width="1.6" />
<line x1="228.11" y1="883.05" x2="233.11" y2="883.05" stroke="#000" stroke-width="1.6" />
<text x="0" y="0" font-size="10.3" text-anchor="end" transform="translate(234.81 939.6) rotate(-90)">MTX 24 hr</text>
<rect x="254.45" y="865.14" width="13.4" height="67.06" fill="#000"/>
<line x1="261.15" y1="858.73" x2="261.15" y2="865.14" stroke="#000" stroke-width="1.6" />
<line x1="258.65" y1="858.73" x2="263.65" y2="858.73" stroke="#000" stroke-width="1.6" />
<text x="0" y="0" font-size="10.3" text-anchor="end" transform="translate(265.35 939.6) rotate(-90)">MTX 48 hr</text>
<rect x="284.99" y="845.15" width="13.4" height="87.05" fill="#000"/>
<line x1="291.69" y1="837.57" x2="291.69" y2="845.15" stroke="#000" stroke-width="1.6" />
<line x1="289.19" y1="837.57" x2="294.19" y2="837.57" stroke="#000" stroke-width="1.6" />
<text x="0" y="0" font-size="10.3" text-anchor="end" transform="translate(295.89 939.6) rotate(-90)">MTX 72 hr</text>
<rect x="346.07" y="883.47" width="13.4" height="48.73" fill="#000"/>
<line x1="352.77" y1="874.97" x2="352.77" y2="883.47" stroke="#000" stroke-width="1.6" />
<line x1="350.27" y1="874.97" x2="355.27" y2="874.97" stroke="#000" stroke-width="1.6" />
<text x="0" y="0" font-size="10.3" text-anchor="end" transform="translate(356.97 939.6) rotate(-90)">DMSO</text>
<rect x="376.61" y="868.06" width="13.4" height="64.14" fill="#000"/>
<line x1="383.31" y1="862.14" x2="383.31" y2="868.06" stroke="#000" stroke-width="1.6" />
<line x1="380.81" y1="862.14" x2="385.81" y2="862.14" stroke="#000" stroke-width="1.6" />
<text x="0" y="0" font-size="10.3" text-anchor="end" transform="translate(387.51 939.6) rotate(-90)">MPD 24 hr</text>
<rect x="407.15" y="844.74" width="13.4" height="87.47" fill="#000"/>
<line x1="413.85" y1="837.53" x2="413.85" y2="844.74" stroke="#000" stroke-width="1.6" />
<line x1="411.35" y1="837.53" x2="416.35" y2="837.53" stroke="#000" stroke-width="1.6" />
<text x="0" y="0" font-size="10.3" text-anchor="end" transform="translate(418.05 939.6) rotate(-90)">MPD 48 hr</text>
<rect x="437.69" y="831.41" width="13.4" height="100.79" fill="#000"/>
<line x1="444.39" y1="821.7" x2="444.39" y2="831.41" stroke="#000" stroke-width="1.6" />
<line x1="441.89" y1="821.7" x2="446.89" y2="821.7" stroke="#000" stroke-width="1.6" />
<text x="0" y="0" font-size="10.3" text-anchor="end" transform="translate(448.59 939.6) rotate(-90)">MPD 72 hr</text>
</svg>
</body></html>
